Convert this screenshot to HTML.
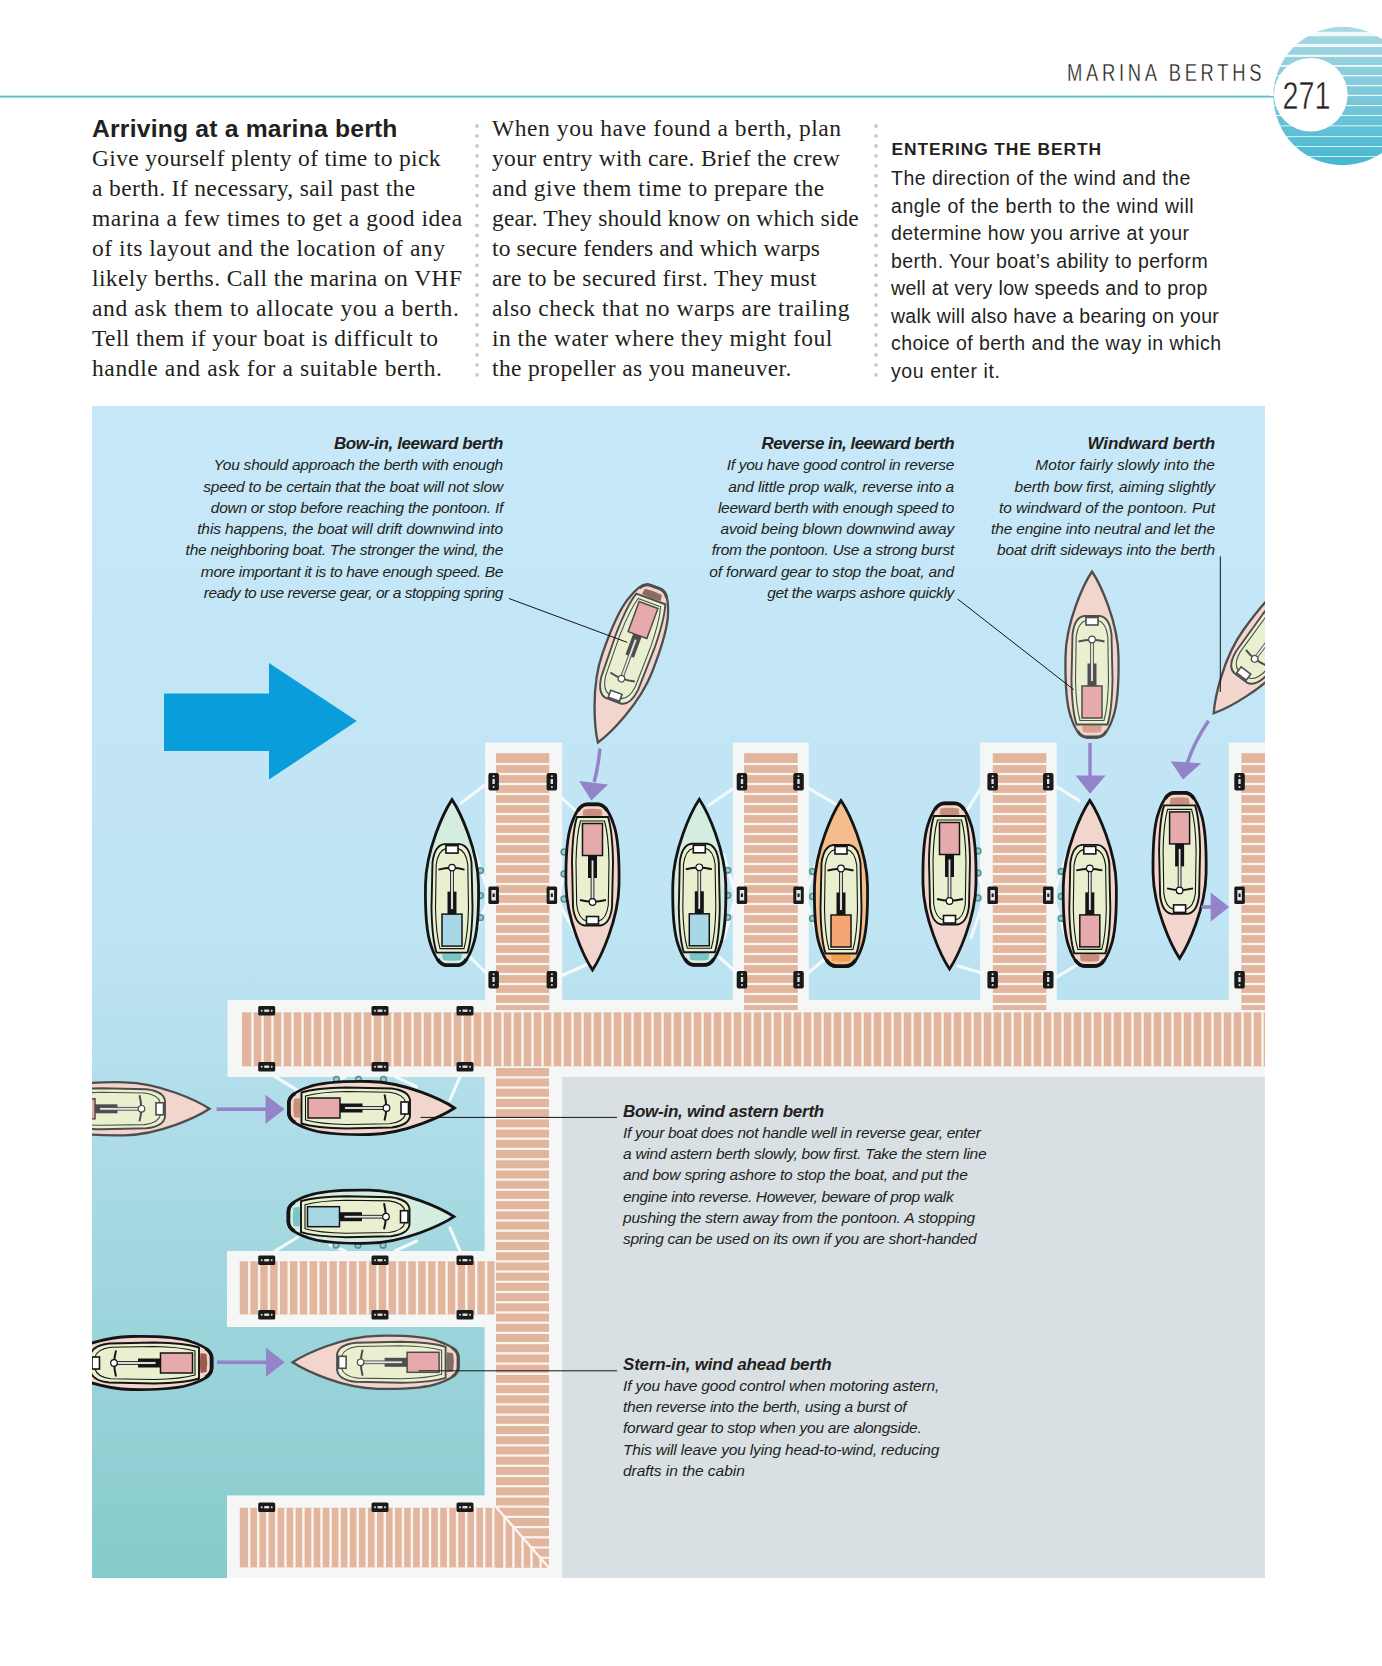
<!DOCTYPE html>
<html><head><meta charset="utf-8">
<style>
*{margin:0;padding:0;box-sizing:border-box}
html,body{width:1382px;height:1666px;background:#fff;overflow:hidden}
body{position:relative;font-family:"Liberation Sans",sans-serif;color:#231f20}
.abs{position:absolute;white-space:nowrap}
#hdr{left:1067.2px;top:60px;font-size:23px;letter-spacing:4.64px;transform:scaleX(0.8);transform-origin:0 0;-webkit-text-stroke:0.3px #fff}
#h1{left:92px;top:115px;font-size:24.7px;font-weight:bold;letter-spacing:0.2px}
.ser{font-family:"Liberation Serif",serif;font-size:23.5px;line-height:30px;letter-spacing:0.45px}
#c1{left:92px;top:143px}
#c2{left:492px;top:113px}
#h3{left:891.5px;top:139.3px;font-size:17.4px;font-weight:bold;letter-spacing:0.9px}
#c3{left:891px;top:165px;font-size:19.5px;line-height:27.5px;letter-spacing:0.45px}
.cap{font-style:italic;font-size:15.5px;line-height:21.3px;letter-spacing:-0.22px}
.cap b{font-size:17px;letter-spacing:-0.28px}
.r{text-align:right}

</style></head><body>
<svg class="abs" style="left:0;top:0" width="1382" height="1666" viewBox="0 0 1382 1666">
<defs>
<clipPath id="ill"><rect x="92" y="406" width="1173" height="1172"/></clipPath>
<linearGradient id="wat" x1="0" y1="406" x2="0" y2="1578" gradientUnits="userSpaceOnUse">
<stop offset="0" stop-color="#c7e8f8"/><stop offset="0.45" stop-color="#bfe4f3"/><stop offset="0.6" stop-color="#b0dde9"/><stop offset="1" stop-color="#86cbcc"/>
</linearGradient>
<linearGradient id="pn" x1="0" y1="27" x2="0" y2="165" gradientUnits="userSpaceOnUse"><stop offset="0" stop-color="#a9d9e3"/><stop offset="0.5" stop-color="#7cc8da"/><stop offset="1" stop-color="#45b8d0"/></linearGradient>
</defs>
<rect x="0" y="95.6" width="1280" height="2" fill="#67bdd0"/>
<circle cx="1342.6" cy="96" r="69.2" fill="url(#pn)"/>
<rect x="1270" y="31.8" width="115" height="4.4" fill="#ffffff" opacity="0.85"/>
<rect x="1270" y="43.9" width="115" height="3.1" fill="#ffffff" opacity="0.85"/>
<rect x="1270" y="54.7" width="115" height="2.2" fill="#ffffff" opacity="0.85"/>
<rect x="1270" y="65.0" width="115" height="1.8" fill="#ffffff" opacity="0.85"/>
<rect x="1270" y="75.0" width="115" height="1.4" fill="#ffffff" opacity="0.85"/>
<rect x="1270" y="84.9" width="115" height="1.3" fill="#ffffff" opacity="0.85"/>
<rect x="1270" y="94.8" width="115" height="1.3" fill="#ffffff" opacity="0.85"/>
<rect x="1270" y="105.0" width="115" height="1.1" fill="#ffffff" opacity="0.85"/>
<rect x="1270" y="115.0" width="115" height="1.0" fill="#ffffff" opacity="0.85"/>
<rect x="1270" y="125.4" width="115" height="0.9" fill="#ffffff" opacity="0.85"/>
<rect x="1270" y="136.2" width="115" height="0.9" fill="#ffffff" opacity="0.85"/>
<rect x="1270" y="146.0" width="115" height="0.9" fill="#ffffff" opacity="0.85"/>
<rect x="1270" y="156.0" width="115" height="0.9" fill="#ffffff" opacity="0.85"/>
<circle cx="1310.8" cy="94.7" r="36.8" fill="#fff"/>
<text x="1282.5" y="109.2" font-family="Liberation Sans" font-size="38" textLength="48" lengthAdjust="spacingAndGlyphs" fill="#231f20" stroke="#fff" stroke-width="0.5">271</text>
<circle cx="477" cy="126.0" r="1.9" fill="#c9c9c9"/>
<circle cx="477" cy="135.9" r="1.9" fill="#c9c9c9"/>
<circle cx="477" cy="145.9" r="1.9" fill="#c9c9c9"/>
<circle cx="477" cy="155.8" r="1.9" fill="#c9c9c9"/>
<circle cx="477" cy="165.8" r="1.9" fill="#c9c9c9"/>
<circle cx="477" cy="175.8" r="1.9" fill="#c9c9c9"/>
<circle cx="477" cy="185.7" r="1.9" fill="#c9c9c9"/>
<circle cx="477" cy="195.6" r="1.9" fill="#c9c9c9"/>
<circle cx="477" cy="205.6" r="1.9" fill="#c9c9c9"/>
<circle cx="477" cy="215.6" r="1.9" fill="#c9c9c9"/>
<circle cx="477" cy="225.5" r="1.9" fill="#c9c9c9"/>
<circle cx="477" cy="235.4" r="1.9" fill="#c9c9c9"/>
<circle cx="477" cy="245.4" r="1.9" fill="#c9c9c9"/>
<circle cx="477" cy="255.3" r="1.9" fill="#c9c9c9"/>
<circle cx="477" cy="265.3" r="1.9" fill="#c9c9c9"/>
<circle cx="477" cy="275.2" r="1.9" fill="#c9c9c9"/>
<circle cx="477" cy="285.2" r="1.9" fill="#c9c9c9"/>
<circle cx="477" cy="295.1" r="1.9" fill="#c9c9c9"/>
<circle cx="477" cy="305.1" r="1.9" fill="#c9c9c9"/>
<circle cx="477" cy="315.0" r="1.9" fill="#c9c9c9"/>
<circle cx="477" cy="325.0" r="1.9" fill="#c9c9c9"/>
<circle cx="477" cy="334.9" r="1.9" fill="#c9c9c9"/>
<circle cx="477" cy="344.9" r="1.9" fill="#c9c9c9"/>
<circle cx="477" cy="354.9" r="1.9" fill="#c9c9c9"/>
<circle cx="477" cy="364.8" r="1.9" fill="#c9c9c9"/>
<circle cx="477" cy="374.8" r="1.9" fill="#c9c9c9"/>
<circle cx="876" cy="126.0" r="1.9" fill="#c9c9c9"/>
<circle cx="876" cy="135.9" r="1.9" fill="#c9c9c9"/>
<circle cx="876" cy="145.9" r="1.9" fill="#c9c9c9"/>
<circle cx="876" cy="155.8" r="1.9" fill="#c9c9c9"/>
<circle cx="876" cy="165.8" r="1.9" fill="#c9c9c9"/>
<circle cx="876" cy="175.8" r="1.9" fill="#c9c9c9"/>
<circle cx="876" cy="185.7" r="1.9" fill="#c9c9c9"/>
<circle cx="876" cy="195.6" r="1.9" fill="#c9c9c9"/>
<circle cx="876" cy="205.6" r="1.9" fill="#c9c9c9"/>
<circle cx="876" cy="215.6" r="1.9" fill="#c9c9c9"/>
<circle cx="876" cy="225.5" r="1.9" fill="#c9c9c9"/>
<circle cx="876" cy="235.4" r="1.9" fill="#c9c9c9"/>
<circle cx="876" cy="245.4" r="1.9" fill="#c9c9c9"/>
<circle cx="876" cy="255.3" r="1.9" fill="#c9c9c9"/>
<circle cx="876" cy="265.3" r="1.9" fill="#c9c9c9"/>
<circle cx="876" cy="275.2" r="1.9" fill="#c9c9c9"/>
<circle cx="876" cy="285.2" r="1.9" fill="#c9c9c9"/>
<circle cx="876" cy="295.1" r="1.9" fill="#c9c9c9"/>
<circle cx="876" cy="305.1" r="1.9" fill="#c9c9c9"/>
<circle cx="876" cy="315.0" r="1.9" fill="#c9c9c9"/>
<circle cx="876" cy="325.0" r="1.9" fill="#c9c9c9"/>
<circle cx="876" cy="334.9" r="1.9" fill="#c9c9c9"/>
<circle cx="876" cy="344.9" r="1.9" fill="#c9c9c9"/>
<circle cx="876" cy="354.9" r="1.9" fill="#c9c9c9"/>
<circle cx="876" cy="364.8" r="1.9" fill="#c9c9c9"/>
<circle cx="876" cy="374.8" r="1.9" fill="#c9c9c9"/>
<g clip-path="url(#ill)">
<rect x="92" y="406" width="1173" height="1172" fill="url(#wat)"/>
<rect x="562" y="1077" width="703" height="501" fill="#d9e0e4"/>
<rect x="485.1" y="742.5" width="77.1" height="270" fill="#f5f6f6"/>
<rect x="732.8" y="742.5" width="76.0" height="270" fill="#f5f6f6"/>
<rect x="980.1" y="742.5" width="76.7" height="270" fill="#f5f6f6"/>
<rect x="1228.8" y="742.5" width="76.2" height="270" fill="#f5f6f6"/>
<rect x="227.5" y="1000" width="1040" height="77" fill="#f5f6f6"/>
<rect x="484.6" y="1000" width="77.4" height="578" fill="#f5f6f6"/>
<rect x="227" y="1251" width="270" height="76" fill="#f5f6f6"/>
<rect x="227" y="1495.4" width="270" height="83" fill="#f5f6f6"/>
<rect x="496" y="753.2" width="53.2" height="256.8" fill="#e2b59e"/>
<rect x="496" y="762.9" width="53.2" height="2.2" fill="#fcf4ee"/>
<rect x="496" y="772.9" width="53.2" height="2.2" fill="#fcf4ee"/>
<rect x="496" y="782.9" width="53.2" height="2.2" fill="#fcf4ee"/>
<rect x="496" y="792.9" width="53.2" height="2.2" fill="#fcf4ee"/>
<rect x="496" y="802.9" width="53.2" height="2.2" fill="#fcf4ee"/>
<rect x="496" y="812.9" width="53.2" height="2.2" fill="#fcf4ee"/>
<rect x="496" y="822.9" width="53.2" height="2.2" fill="#fcf4ee"/>
<rect x="496" y="832.9" width="53.2" height="2.2" fill="#fcf4ee"/>
<rect x="496" y="842.9" width="53.2" height="2.2" fill="#fcf4ee"/>
<rect x="496" y="852.9" width="53.2" height="2.2" fill="#fcf4ee"/>
<rect x="496" y="862.9" width="53.2" height="2.2" fill="#fcf4ee"/>
<rect x="496" y="872.9" width="53.2" height="2.2" fill="#fcf4ee"/>
<rect x="496" y="882.9" width="53.2" height="2.2" fill="#fcf4ee"/>
<rect x="496" y="892.9" width="53.2" height="2.2" fill="#fcf4ee"/>
<rect x="496" y="902.9" width="53.2" height="2.2" fill="#fcf4ee"/>
<rect x="496" y="912.9" width="53.2" height="2.2" fill="#fcf4ee"/>
<rect x="496" y="922.9" width="53.2" height="2.2" fill="#fcf4ee"/>
<rect x="496" y="932.9" width="53.2" height="2.2" fill="#fcf4ee"/>
<rect x="496" y="942.9" width="53.2" height="2.2" fill="#fcf4ee"/>
<rect x="496" y="952.9" width="53.2" height="2.2" fill="#fcf4ee"/>
<rect x="496" y="962.9" width="53.2" height="2.2" fill="#fcf4ee"/>
<rect x="496" y="972.9" width="53.2" height="2.2" fill="#fcf4ee"/>
<rect x="496" y="982.9" width="53.2" height="2.2" fill="#fcf4ee"/>
<rect x="496" y="992.9" width="53.2" height="2.2" fill="#fcf4ee"/>
<rect x="496" y="1002.9" width="53.2" height="2.2" fill="#fcf4ee"/>
<rect x="744.1" y="753.2" width="53.6" height="256.8" fill="#e2b59e"/>
<rect x="744.1" y="762.9" width="53.6" height="2.2" fill="#fcf4ee"/>
<rect x="744.1" y="772.9" width="53.6" height="2.2" fill="#fcf4ee"/>
<rect x="744.1" y="782.9" width="53.6" height="2.2" fill="#fcf4ee"/>
<rect x="744.1" y="792.9" width="53.6" height="2.2" fill="#fcf4ee"/>
<rect x="744.1" y="802.9" width="53.6" height="2.2" fill="#fcf4ee"/>
<rect x="744.1" y="812.9" width="53.6" height="2.2" fill="#fcf4ee"/>
<rect x="744.1" y="822.9" width="53.6" height="2.2" fill="#fcf4ee"/>
<rect x="744.1" y="832.9" width="53.6" height="2.2" fill="#fcf4ee"/>
<rect x="744.1" y="842.9" width="53.6" height="2.2" fill="#fcf4ee"/>
<rect x="744.1" y="852.9" width="53.6" height="2.2" fill="#fcf4ee"/>
<rect x="744.1" y="862.9" width="53.6" height="2.2" fill="#fcf4ee"/>
<rect x="744.1" y="872.9" width="53.6" height="2.2" fill="#fcf4ee"/>
<rect x="744.1" y="882.9" width="53.6" height="2.2" fill="#fcf4ee"/>
<rect x="744.1" y="892.9" width="53.6" height="2.2" fill="#fcf4ee"/>
<rect x="744.1" y="902.9" width="53.6" height="2.2" fill="#fcf4ee"/>
<rect x="744.1" y="912.9" width="53.6" height="2.2" fill="#fcf4ee"/>
<rect x="744.1" y="922.9" width="53.6" height="2.2" fill="#fcf4ee"/>
<rect x="744.1" y="932.9" width="53.6" height="2.2" fill="#fcf4ee"/>
<rect x="744.1" y="942.9" width="53.6" height="2.2" fill="#fcf4ee"/>
<rect x="744.1" y="952.9" width="53.6" height="2.2" fill="#fcf4ee"/>
<rect x="744.1" y="962.9" width="53.6" height="2.2" fill="#fcf4ee"/>
<rect x="744.1" y="972.9" width="53.6" height="2.2" fill="#fcf4ee"/>
<rect x="744.1" y="982.9" width="53.6" height="2.2" fill="#fcf4ee"/>
<rect x="744.1" y="992.9" width="53.6" height="2.2" fill="#fcf4ee"/>
<rect x="744.1" y="1002.9" width="53.6" height="2.2" fill="#fcf4ee"/>
<rect x="992.8" y="753.2" width="53.5" height="256.8" fill="#e2b59e"/>
<rect x="992.8" y="762.9" width="53.5" height="2.2" fill="#fcf4ee"/>
<rect x="992.8" y="772.9" width="53.5" height="2.2" fill="#fcf4ee"/>
<rect x="992.8" y="782.9" width="53.5" height="2.2" fill="#fcf4ee"/>
<rect x="992.8" y="792.9" width="53.5" height="2.2" fill="#fcf4ee"/>
<rect x="992.8" y="802.9" width="53.5" height="2.2" fill="#fcf4ee"/>
<rect x="992.8" y="812.9" width="53.5" height="2.2" fill="#fcf4ee"/>
<rect x="992.8" y="822.9" width="53.5" height="2.2" fill="#fcf4ee"/>
<rect x="992.8" y="832.9" width="53.5" height="2.2" fill="#fcf4ee"/>
<rect x="992.8" y="842.9" width="53.5" height="2.2" fill="#fcf4ee"/>
<rect x="992.8" y="852.9" width="53.5" height="2.2" fill="#fcf4ee"/>
<rect x="992.8" y="862.9" width="53.5" height="2.2" fill="#fcf4ee"/>
<rect x="992.8" y="872.9" width="53.5" height="2.2" fill="#fcf4ee"/>
<rect x="992.8" y="882.9" width="53.5" height="2.2" fill="#fcf4ee"/>
<rect x="992.8" y="892.9" width="53.5" height="2.2" fill="#fcf4ee"/>
<rect x="992.8" y="902.9" width="53.5" height="2.2" fill="#fcf4ee"/>
<rect x="992.8" y="912.9" width="53.5" height="2.2" fill="#fcf4ee"/>
<rect x="992.8" y="922.9" width="53.5" height="2.2" fill="#fcf4ee"/>
<rect x="992.8" y="932.9" width="53.5" height="2.2" fill="#fcf4ee"/>
<rect x="992.8" y="942.9" width="53.5" height="2.2" fill="#fcf4ee"/>
<rect x="992.8" y="952.9" width="53.5" height="2.2" fill="#fcf4ee"/>
<rect x="992.8" y="962.9" width="53.5" height="2.2" fill="#fcf4ee"/>
<rect x="992.8" y="972.9" width="53.5" height="2.2" fill="#fcf4ee"/>
<rect x="992.8" y="982.9" width="53.5" height="2.2" fill="#fcf4ee"/>
<rect x="992.8" y="992.9" width="53.5" height="2.2" fill="#fcf4ee"/>
<rect x="992.8" y="1002.9" width="53.5" height="2.2" fill="#fcf4ee"/>
<rect x="1241.4" y="753.2" width="58.6" height="256.8" fill="#e2b59e"/>
<rect x="1241.4" y="762.9" width="58.6" height="2.2" fill="#fcf4ee"/>
<rect x="1241.4" y="772.9" width="58.6" height="2.2" fill="#fcf4ee"/>
<rect x="1241.4" y="782.9" width="58.6" height="2.2" fill="#fcf4ee"/>
<rect x="1241.4" y="792.9" width="58.6" height="2.2" fill="#fcf4ee"/>
<rect x="1241.4" y="802.9" width="58.6" height="2.2" fill="#fcf4ee"/>
<rect x="1241.4" y="812.9" width="58.6" height="2.2" fill="#fcf4ee"/>
<rect x="1241.4" y="822.9" width="58.6" height="2.2" fill="#fcf4ee"/>
<rect x="1241.4" y="832.9" width="58.6" height="2.2" fill="#fcf4ee"/>
<rect x="1241.4" y="842.9" width="58.6" height="2.2" fill="#fcf4ee"/>
<rect x="1241.4" y="852.9" width="58.6" height="2.2" fill="#fcf4ee"/>
<rect x="1241.4" y="862.9" width="58.6" height="2.2" fill="#fcf4ee"/>
<rect x="1241.4" y="872.9" width="58.6" height="2.2" fill="#fcf4ee"/>
<rect x="1241.4" y="882.9" width="58.6" height="2.2" fill="#fcf4ee"/>
<rect x="1241.4" y="892.9" width="58.6" height="2.2" fill="#fcf4ee"/>
<rect x="1241.4" y="902.9" width="58.6" height="2.2" fill="#fcf4ee"/>
<rect x="1241.4" y="912.9" width="58.6" height="2.2" fill="#fcf4ee"/>
<rect x="1241.4" y="922.9" width="58.6" height="2.2" fill="#fcf4ee"/>
<rect x="1241.4" y="932.9" width="58.6" height="2.2" fill="#fcf4ee"/>
<rect x="1241.4" y="942.9" width="58.6" height="2.2" fill="#fcf4ee"/>
<rect x="1241.4" y="952.9" width="58.6" height="2.2" fill="#fcf4ee"/>
<rect x="1241.4" y="962.9" width="58.6" height="2.2" fill="#fcf4ee"/>
<rect x="1241.4" y="972.9" width="58.6" height="2.2" fill="#fcf4ee"/>
<rect x="1241.4" y="982.9" width="58.6" height="2.2" fill="#fcf4ee"/>
<rect x="1241.4" y="992.9" width="58.6" height="2.2" fill="#fcf4ee"/>
<rect x="1241.4" y="1002.9" width="58.6" height="2.2" fill="#fcf4ee"/>
<rect x="242" y="1012.4" width="1025.0" height="53.9" fill="#e2b59e"/>
<rect x="251.3" y="1012.4" width="2.4" height="53.9" fill="#fcf4ee"/>
<rect x="261.3" y="1012.4" width="2.4" height="53.9" fill="#fcf4ee"/>
<rect x="271.3" y="1012.4" width="2.4" height="53.9" fill="#fcf4ee"/>
<rect x="281.3" y="1012.4" width="2.4" height="53.9" fill="#fcf4ee"/>
<rect x="291.3" y="1012.4" width="2.4" height="53.9" fill="#fcf4ee"/>
<rect x="301.3" y="1012.4" width="2.4" height="53.9" fill="#fcf4ee"/>
<rect x="311.3" y="1012.4" width="2.4" height="53.9" fill="#fcf4ee"/>
<rect x="321.3" y="1012.4" width="2.4" height="53.9" fill="#fcf4ee"/>
<rect x="331.3" y="1012.4" width="2.4" height="53.9" fill="#fcf4ee"/>
<rect x="341.3" y="1012.4" width="2.4" height="53.9" fill="#fcf4ee"/>
<rect x="351.3" y="1012.4" width="2.4" height="53.9" fill="#fcf4ee"/>
<rect x="361.3" y="1012.4" width="2.4" height="53.9" fill="#fcf4ee"/>
<rect x="371.3" y="1012.4" width="2.4" height="53.9" fill="#fcf4ee"/>
<rect x="381.3" y="1012.4" width="2.4" height="53.9" fill="#fcf4ee"/>
<rect x="391.3" y="1012.4" width="2.4" height="53.9" fill="#fcf4ee"/>
<rect x="401.3" y="1012.4" width="2.4" height="53.9" fill="#fcf4ee"/>
<rect x="411.3" y="1012.4" width="2.4" height="53.9" fill="#fcf4ee"/>
<rect x="421.3" y="1012.4" width="2.4" height="53.9" fill="#fcf4ee"/>
<rect x="431.3" y="1012.4" width="2.4" height="53.9" fill="#fcf4ee"/>
<rect x="441.3" y="1012.4" width="2.4" height="53.9" fill="#fcf4ee"/>
<rect x="451.3" y="1012.4" width="2.4" height="53.9" fill="#fcf4ee"/>
<rect x="461.3" y="1012.4" width="2.4" height="53.9" fill="#fcf4ee"/>
<rect x="471.3" y="1012.4" width="2.4" height="53.9" fill="#fcf4ee"/>
<rect x="481.3" y="1012.4" width="2.4" height="53.9" fill="#fcf4ee"/>
<rect x="491.3" y="1012.4" width="2.4" height="53.9" fill="#fcf4ee"/>
<rect x="501.3" y="1012.4" width="2.4" height="53.9" fill="#fcf4ee"/>
<rect x="511.3" y="1012.4" width="2.4" height="53.9" fill="#fcf4ee"/>
<rect x="521.3" y="1012.4" width="2.4" height="53.9" fill="#fcf4ee"/>
<rect x="531.3" y="1012.4" width="2.4" height="53.9" fill="#fcf4ee"/>
<rect x="541.3" y="1012.4" width="2.4" height="53.9" fill="#fcf4ee"/>
<rect x="551.3" y="1012.4" width="2.4" height="53.9" fill="#fcf4ee"/>
<rect x="561.3" y="1012.4" width="2.4" height="53.9" fill="#fcf4ee"/>
<rect x="571.3" y="1012.4" width="2.4" height="53.9" fill="#fcf4ee"/>
<rect x="581.3" y="1012.4" width="2.4" height="53.9" fill="#fcf4ee"/>
<rect x="591.3" y="1012.4" width="2.4" height="53.9" fill="#fcf4ee"/>
<rect x="601.3" y="1012.4" width="2.4" height="53.9" fill="#fcf4ee"/>
<rect x="611.3" y="1012.4" width="2.4" height="53.9" fill="#fcf4ee"/>
<rect x="621.3" y="1012.4" width="2.4" height="53.9" fill="#fcf4ee"/>
<rect x="631.3" y="1012.4" width="2.4" height="53.9" fill="#fcf4ee"/>
<rect x="641.3" y="1012.4" width="2.4" height="53.9" fill="#fcf4ee"/>
<rect x="651.3" y="1012.4" width="2.4" height="53.9" fill="#fcf4ee"/>
<rect x="661.3" y="1012.4" width="2.4" height="53.9" fill="#fcf4ee"/>
<rect x="671.3" y="1012.4" width="2.4" height="53.9" fill="#fcf4ee"/>
<rect x="681.3" y="1012.4" width="2.4" height="53.9" fill="#fcf4ee"/>
<rect x="691.3" y="1012.4" width="2.4" height="53.9" fill="#fcf4ee"/>
<rect x="701.3" y="1012.4" width="2.4" height="53.9" fill="#fcf4ee"/>
<rect x="711.3" y="1012.4" width="2.4" height="53.9" fill="#fcf4ee"/>
<rect x="721.3" y="1012.4" width="2.4" height="53.9" fill="#fcf4ee"/>
<rect x="731.3" y="1012.4" width="2.4" height="53.9" fill="#fcf4ee"/>
<rect x="741.3" y="1012.4" width="2.4" height="53.9" fill="#fcf4ee"/>
<rect x="751.3" y="1012.4" width="2.4" height="53.9" fill="#fcf4ee"/>
<rect x="761.3" y="1012.4" width="2.4" height="53.9" fill="#fcf4ee"/>
<rect x="771.3" y="1012.4" width="2.4" height="53.9" fill="#fcf4ee"/>
<rect x="781.3" y="1012.4" width="2.4" height="53.9" fill="#fcf4ee"/>
<rect x="791.3" y="1012.4" width="2.4" height="53.9" fill="#fcf4ee"/>
<rect x="801.3" y="1012.4" width="2.4" height="53.9" fill="#fcf4ee"/>
<rect x="811.3" y="1012.4" width="2.4" height="53.9" fill="#fcf4ee"/>
<rect x="821.3" y="1012.4" width="2.4" height="53.9" fill="#fcf4ee"/>
<rect x="831.3" y="1012.4" width="2.4" height="53.9" fill="#fcf4ee"/>
<rect x="841.3" y="1012.4" width="2.4" height="53.9" fill="#fcf4ee"/>
<rect x="851.3" y="1012.4" width="2.4" height="53.9" fill="#fcf4ee"/>
<rect x="861.3" y="1012.4" width="2.4" height="53.9" fill="#fcf4ee"/>
<rect x="871.3" y="1012.4" width="2.4" height="53.9" fill="#fcf4ee"/>
<rect x="881.3" y="1012.4" width="2.4" height="53.9" fill="#fcf4ee"/>
<rect x="891.3" y="1012.4" width="2.4" height="53.9" fill="#fcf4ee"/>
<rect x="901.3" y="1012.4" width="2.4" height="53.9" fill="#fcf4ee"/>
<rect x="911.3" y="1012.4" width="2.4" height="53.9" fill="#fcf4ee"/>
<rect x="921.3" y="1012.4" width="2.4" height="53.9" fill="#fcf4ee"/>
<rect x="931.3" y="1012.4" width="2.4" height="53.9" fill="#fcf4ee"/>
<rect x="941.3" y="1012.4" width="2.4" height="53.9" fill="#fcf4ee"/>
<rect x="951.3" y="1012.4" width="2.4" height="53.9" fill="#fcf4ee"/>
<rect x="961.3" y="1012.4" width="2.4" height="53.9" fill="#fcf4ee"/>
<rect x="971.3" y="1012.4" width="2.4" height="53.9" fill="#fcf4ee"/>
<rect x="981.3" y="1012.4" width="2.4" height="53.9" fill="#fcf4ee"/>
<rect x="991.3" y="1012.4" width="2.4" height="53.9" fill="#fcf4ee"/>
<rect x="1001.3" y="1012.4" width="2.4" height="53.9" fill="#fcf4ee"/>
<rect x="1011.3" y="1012.4" width="2.4" height="53.9" fill="#fcf4ee"/>
<rect x="1021.3" y="1012.4" width="2.4" height="53.9" fill="#fcf4ee"/>
<rect x="1031.3" y="1012.4" width="2.4" height="53.9" fill="#fcf4ee"/>
<rect x="1041.3" y="1012.4" width="2.4" height="53.9" fill="#fcf4ee"/>
<rect x="1051.3" y="1012.4" width="2.4" height="53.9" fill="#fcf4ee"/>
<rect x="1061.3" y="1012.4" width="2.4" height="53.9" fill="#fcf4ee"/>
<rect x="1071.3" y="1012.4" width="2.4" height="53.9" fill="#fcf4ee"/>
<rect x="1081.3" y="1012.4" width="2.4" height="53.9" fill="#fcf4ee"/>
<rect x="1091.3" y="1012.4" width="2.4" height="53.9" fill="#fcf4ee"/>
<rect x="1101.3" y="1012.4" width="2.4" height="53.9" fill="#fcf4ee"/>
<rect x="1111.3" y="1012.4" width="2.4" height="53.9" fill="#fcf4ee"/>
<rect x="1121.3" y="1012.4" width="2.4" height="53.9" fill="#fcf4ee"/>
<rect x="1131.3" y="1012.4" width="2.4" height="53.9" fill="#fcf4ee"/>
<rect x="1141.3" y="1012.4" width="2.4" height="53.9" fill="#fcf4ee"/>
<rect x="1151.3" y="1012.4" width="2.4" height="53.9" fill="#fcf4ee"/>
<rect x="1161.3" y="1012.4" width="2.4" height="53.9" fill="#fcf4ee"/>
<rect x="1171.3" y="1012.4" width="2.4" height="53.9" fill="#fcf4ee"/>
<rect x="1181.3" y="1012.4" width="2.4" height="53.9" fill="#fcf4ee"/>
<rect x="1191.3" y="1012.4" width="2.4" height="53.9" fill="#fcf4ee"/>
<rect x="1201.3" y="1012.4" width="2.4" height="53.9" fill="#fcf4ee"/>
<rect x="1211.3" y="1012.4" width="2.4" height="53.9" fill="#fcf4ee"/>
<rect x="1221.3" y="1012.4" width="2.4" height="53.9" fill="#fcf4ee"/>
<rect x="1231.3" y="1012.4" width="2.4" height="53.9" fill="#fcf4ee"/>
<rect x="1241.3" y="1012.4" width="2.4" height="53.9" fill="#fcf4ee"/>
<rect x="1251.3" y="1012.4" width="2.4" height="53.9" fill="#fcf4ee"/>
<rect x="1261.3" y="1012.4" width="2.4" height="53.9" fill="#fcf4ee"/>
<rect x="496" y="1068" width="53.0" height="500.0" fill="#e2b59e"/>
<rect x="496" y="1076.3" width="53.0" height="2.2" fill="#fcf4ee"/>
<rect x="496" y="1086.5" width="53.0" height="2.2" fill="#fcf4ee"/>
<rect x="496" y="1096.7" width="53.0" height="2.2" fill="#fcf4ee"/>
<rect x="496" y="1107.0" width="53.0" height="2.2" fill="#fcf4ee"/>
<rect x="496" y="1117.2" width="53.0" height="2.2" fill="#fcf4ee"/>
<rect x="496" y="1127.4" width="53.0" height="2.2" fill="#fcf4ee"/>
<rect x="496" y="1137.6" width="53.0" height="2.2" fill="#fcf4ee"/>
<rect x="496" y="1147.8" width="53.0" height="2.2" fill="#fcf4ee"/>
<rect x="496" y="1158.1" width="53.0" height="2.2" fill="#fcf4ee"/>
<rect x="496" y="1168.3" width="53.0" height="2.2" fill="#fcf4ee"/>
<rect x="496" y="1178.5" width="53.0" height="2.2" fill="#fcf4ee"/>
<rect x="496" y="1188.7" width="53.0" height="2.2" fill="#fcf4ee"/>
<rect x="496" y="1198.9" width="53.0" height="2.2" fill="#fcf4ee"/>
<rect x="496" y="1209.2" width="53.0" height="2.2" fill="#fcf4ee"/>
<rect x="496" y="1219.4" width="53.0" height="2.2" fill="#fcf4ee"/>
<rect x="496" y="1229.6" width="53.0" height="2.2" fill="#fcf4ee"/>
<rect x="496" y="1239.8" width="53.0" height="2.2" fill="#fcf4ee"/>
<rect x="496" y="1250.0" width="53.0" height="2.2" fill="#fcf4ee"/>
<rect x="496" y="1260.3" width="53.0" height="2.2" fill="#fcf4ee"/>
<rect x="496" y="1270.5" width="53.0" height="2.2" fill="#fcf4ee"/>
<rect x="496" y="1280.7" width="53.0" height="2.2" fill="#fcf4ee"/>
<rect x="496" y="1290.9" width="53.0" height="2.2" fill="#fcf4ee"/>
<rect x="496" y="1301.1" width="53.0" height="2.2" fill="#fcf4ee"/>
<rect x="496" y="1311.4" width="53.0" height="2.2" fill="#fcf4ee"/>
<rect x="496" y="1321.6" width="53.0" height="2.2" fill="#fcf4ee"/>
<rect x="496" y="1331.8" width="53.0" height="2.2" fill="#fcf4ee"/>
<rect x="496" y="1342.0" width="53.0" height="2.2" fill="#fcf4ee"/>
<rect x="496" y="1352.2" width="53.0" height="2.2" fill="#fcf4ee"/>
<rect x="496" y="1362.5" width="53.0" height="2.2" fill="#fcf4ee"/>
<rect x="496" y="1372.7" width="53.0" height="2.2" fill="#fcf4ee"/>
<rect x="496" y="1382.9" width="53.0" height="2.2" fill="#fcf4ee"/>
<rect x="496" y="1393.1" width="53.0" height="2.2" fill="#fcf4ee"/>
<rect x="496" y="1403.3" width="53.0" height="2.2" fill="#fcf4ee"/>
<rect x="496" y="1413.6" width="53.0" height="2.2" fill="#fcf4ee"/>
<rect x="496" y="1423.8" width="53.0" height="2.2" fill="#fcf4ee"/>
<rect x="496" y="1434.0" width="53.0" height="2.2" fill="#fcf4ee"/>
<rect x="496" y="1444.2" width="53.0" height="2.2" fill="#fcf4ee"/>
<rect x="496" y="1454.4" width="53.0" height="2.2" fill="#fcf4ee"/>
<rect x="496" y="1464.7" width="53.0" height="2.2" fill="#fcf4ee"/>
<rect x="496" y="1474.9" width="53.0" height="2.2" fill="#fcf4ee"/>
<rect x="496" y="1485.1" width="53.0" height="2.2" fill="#fcf4ee"/>
<rect x="496" y="1495.3" width="53.0" height="2.2" fill="#fcf4ee"/>
<rect x="496" y="1505.5" width="53.0" height="2.2" fill="#fcf4ee"/>
<rect x="496" y="1515.8" width="53.0" height="2.2" fill="#fcf4ee"/>
<rect x="496" y="1526.0" width="53.0" height="2.2" fill="#fcf4ee"/>
<rect x="496" y="1536.2" width="53.0" height="2.2" fill="#fcf4ee"/>
<rect x="496" y="1546.4" width="53.0" height="2.2" fill="#fcf4ee"/>
<rect x="496" y="1556.6" width="53.0" height="2.2" fill="#fcf4ee"/>
<rect x="496" y="1566.9" width="53.0" height="2.2" fill="#fcf4ee"/>
<rect x="239.8" y="1261.3" width="254.8" height="53.2" fill="#e2b59e"/>
<rect x="248.0" y="1261.3" width="2.4" height="53.2" fill="#fcf4ee"/>
<rect x="257.9" y="1261.3" width="2.4" height="53.2" fill="#fcf4ee"/>
<rect x="267.7" y="1261.3" width="2.4" height="53.2" fill="#fcf4ee"/>
<rect x="277.6" y="1261.3" width="2.4" height="53.2" fill="#fcf4ee"/>
<rect x="287.5" y="1261.3" width="2.4" height="53.2" fill="#fcf4ee"/>
<rect x="297.4" y="1261.3" width="2.4" height="53.2" fill="#fcf4ee"/>
<rect x="307.2" y="1261.3" width="2.4" height="53.2" fill="#fcf4ee"/>
<rect x="317.1" y="1261.3" width="2.4" height="53.2" fill="#fcf4ee"/>
<rect x="327.0" y="1261.3" width="2.4" height="53.2" fill="#fcf4ee"/>
<rect x="336.8" y="1261.3" width="2.4" height="53.2" fill="#fcf4ee"/>
<rect x="346.7" y="1261.3" width="2.4" height="53.2" fill="#fcf4ee"/>
<rect x="356.6" y="1261.3" width="2.4" height="53.2" fill="#fcf4ee"/>
<rect x="366.4" y="1261.3" width="2.4" height="53.2" fill="#fcf4ee"/>
<rect x="376.3" y="1261.3" width="2.4" height="53.2" fill="#fcf4ee"/>
<rect x="386.2" y="1261.3" width="2.4" height="53.2" fill="#fcf4ee"/>
<rect x="396.1" y="1261.3" width="2.4" height="53.2" fill="#fcf4ee"/>
<rect x="405.9" y="1261.3" width="2.4" height="53.2" fill="#fcf4ee"/>
<rect x="415.8" y="1261.3" width="2.4" height="53.2" fill="#fcf4ee"/>
<rect x="425.7" y="1261.3" width="2.4" height="53.2" fill="#fcf4ee"/>
<rect x="435.5" y="1261.3" width="2.4" height="53.2" fill="#fcf4ee"/>
<rect x="445.4" y="1261.3" width="2.4" height="53.2" fill="#fcf4ee"/>
<rect x="455.3" y="1261.3" width="2.4" height="53.2" fill="#fcf4ee"/>
<rect x="465.1" y="1261.3" width="2.4" height="53.2" fill="#fcf4ee"/>
<rect x="475.0" y="1261.3" width="2.4" height="53.2" fill="#fcf4ee"/>
<rect x="484.9" y="1261.3" width="2.4" height="53.2" fill="#fcf4ee"/>
<rect x="239.8" y="1507.8" width="256.2" height="59.6" fill="#e2b59e"/>
<rect x="248.0" y="1507.8" width="2.4" height="59.6" fill="#fcf4ee"/>
<rect x="257.0" y="1507.8" width="2.4" height="59.6" fill="#fcf4ee"/>
<rect x="266.1" y="1507.8" width="2.4" height="59.6" fill="#fcf4ee"/>
<rect x="275.1" y="1507.8" width="2.4" height="59.6" fill="#fcf4ee"/>
<rect x="284.2" y="1507.8" width="2.4" height="59.6" fill="#fcf4ee"/>
<rect x="293.2" y="1507.8" width="2.4" height="59.6" fill="#fcf4ee"/>
<rect x="302.2" y="1507.8" width="2.4" height="59.6" fill="#fcf4ee"/>
<rect x="311.3" y="1507.8" width="2.4" height="59.6" fill="#fcf4ee"/>
<rect x="320.3" y="1507.8" width="2.4" height="59.6" fill="#fcf4ee"/>
<rect x="329.4" y="1507.8" width="2.4" height="59.6" fill="#fcf4ee"/>
<rect x="338.4" y="1507.8" width="2.4" height="59.6" fill="#fcf4ee"/>
<rect x="347.4" y="1507.8" width="2.4" height="59.6" fill="#fcf4ee"/>
<rect x="356.5" y="1507.8" width="2.4" height="59.6" fill="#fcf4ee"/>
<rect x="365.5" y="1507.8" width="2.4" height="59.6" fill="#fcf4ee"/>
<rect x="374.6" y="1507.8" width="2.4" height="59.6" fill="#fcf4ee"/>
<rect x="383.6" y="1507.8" width="2.4" height="59.6" fill="#fcf4ee"/>
<rect x="392.6" y="1507.8" width="2.4" height="59.6" fill="#fcf4ee"/>
<rect x="401.7" y="1507.8" width="2.4" height="59.6" fill="#fcf4ee"/>
<rect x="410.7" y="1507.8" width="2.4" height="59.6" fill="#fcf4ee"/>
<rect x="419.8" y="1507.8" width="2.4" height="59.6" fill="#fcf4ee"/>
<rect x="428.8" y="1507.8" width="2.4" height="59.6" fill="#fcf4ee"/>
<rect x="437.8" y="1507.8" width="2.4" height="59.6" fill="#fcf4ee"/>
<rect x="446.9" y="1507.8" width="2.4" height="59.6" fill="#fcf4ee"/>
<rect x="455.9" y="1507.8" width="2.4" height="59.6" fill="#fcf4ee"/>
<rect x="465.0" y="1507.8" width="2.4" height="59.6" fill="#fcf4ee"/>
<rect x="474.0" y="1507.8" width="2.4" height="59.6" fill="#fcf4ee"/>
<rect x="483.0" y="1507.8" width="2.4" height="59.6" fill="#fcf4ee"/>
<rect x="492.1" y="1507.8" width="2.4" height="59.6" fill="#fcf4ee"/>
<path d="M496,1507 L549,1567.7 L496,1567.7 Z" fill="#e2b59e"/>
<rect x="503.2" y="1515.2" width="2.4" height="52.5" fill="#fcf4ee"/>
<rect x="512.2" y="1525.6" width="2.4" height="42.1" fill="#fcf4ee"/>
<rect x="521.3" y="1536.0" width="2.4" height="31.7" fill="#fcf4ee"/>
<rect x="530.3" y="1546.3" width="2.4" height="21.4" fill="#fcf4ee"/>
<rect x="539.4" y="1556.7" width="2.4" height="11.0" fill="#fcf4ee"/>
<rect x="548.4" y="1567.0" width="2.4" height="0.7" fill="#fcf4ee"/>
<path d="M496,1507 L549,1567.7" stroke="#fcf4ee" stroke-width="2.4"/>
<path d="M460.9,803.0 L485.4,784.5" fill="none" stroke="#f4fafc" stroke-width="3.1" stroke-linecap="round"/>
<path d="M472.4,846.4 L487.5,889.0" fill="none" stroke="#f4fafc" stroke-width="3.1" stroke-linecap="round"/>
<path d="M487.5,903.0 L474.6,932.0" fill="none" stroke="#f4fafc" stroke-width="3.1" stroke-linecap="round"/>
<path d="M468.8,955.8 L486.0,973.0" fill="none" stroke="#f4fafc" stroke-width="3.1" stroke-linecap="round"/>
<path d="M561.0,797.4 L574.6,809.7" fill="none" stroke="#f4fafc" stroke-width="3.1" stroke-linecap="round"/>
<path d="M560.0,889.0 L570.0,858.0" fill="none" stroke="#f4fafc" stroke-width="3.1" stroke-linecap="round"/>
<path d="M560.0,905.0 L579.0,940.0" fill="none" stroke="#f4fafc" stroke-width="3.1" stroke-linecap="round"/>
<path d="M561.0,976.0 L586.9,964.5" fill="none" stroke="#f4fafc" stroke-width="3.1" stroke-linecap="round"/>
<path d="M708.6,805.5 L731.7,789.5" fill="none" stroke="#f4fafc" stroke-width="3.1" stroke-linecap="round"/>
<path d="M723.7,854.8 L734.0,889.9" fill="none" stroke="#f4fafc" stroke-width="3.1" stroke-linecap="round"/>
<path d="M734.0,903.0 L723.7,939.0" fill="none" stroke="#f4fafc" stroke-width="3.1" stroke-linecap="round"/>
<path d="M719.7,957.5 L734.8,971.0" fill="none" stroke="#f4fafc" stroke-width="3.1" stroke-linecap="round"/>
<path d="M808.0,788.0 L835.2,803.9" fill="none" stroke="#f4fafc" stroke-width="3.1" stroke-linecap="round"/>
<path d="M819.2,854.8 L807.0,889.9" fill="none" stroke="#f4fafc" stroke-width="3.1" stroke-linecap="round"/>
<path d="M807.0,903.0 L819.2,940.8" fill="none" stroke="#f4fafc" stroke-width="3.1" stroke-linecap="round"/>
<path d="M824.0,960.0 L808.0,972.7" fill="none" stroke="#f4fafc" stroke-width="3.1" stroke-linecap="round"/>
<path d="M966.8,811.0 L982.0,786.4" fill="none" stroke="#f4fafc" stroke-width="3.1" stroke-linecap="round"/>
<path d="M973.0,858.0 L983.0,889.9" fill="none" stroke="#f4fafc" stroke-width="3.1" stroke-linecap="round"/>
<path d="M983.0,903.0 L971.0,938.0" fill="none" stroke="#f4fafc" stroke-width="3.1" stroke-linecap="round"/>
<path d="M958.0,966.0 L982.0,973.0" fill="none" stroke="#f4fafc" stroke-width="3.1" stroke-linecap="round"/>
<path d="M1056.0,786.4 L1079.7,800.9" fill="none" stroke="#f4fafc" stroke-width="3.1" stroke-linecap="round"/>
<path d="M1067.0,854.8 L1055.0,889.9" fill="none" stroke="#f4fafc" stroke-width="3.1" stroke-linecap="round"/>
<path d="M1055.0,903.0 L1067.0,940.0" fill="none" stroke="#f4fafc" stroke-width="3.1" stroke-linecap="round"/>
<path d="M1056.0,977.5 L1082.6,961.5" fill="none" stroke="#f4fafc" stroke-width="3.1" stroke-linecap="round"/>
<path d="M275.0,1076.7 L298.3,1090.8" fill="none" stroke="#f4fafc" stroke-width="3.1" stroke-linecap="round"/>
<path d="M395.0,1076.7 L416.7,1086.7" fill="none" stroke="#f4fafc" stroke-width="3.1" stroke-linecap="round"/>
<path d="M460.0,1076.7 L450.0,1100.0" fill="none" stroke="#f4fafc" stroke-width="3.1" stroke-linecap="round"/>
<path d="M345.0,1077.0 L330.0,1083.0" fill="none" stroke="#f4fafc" stroke-width="3.1" stroke-linecap="round"/>
<path d="M275.0,1251.0 L298.0,1237.0" fill="none" stroke="#f4fafc" stroke-width="3.1" stroke-linecap="round"/>
<path d="M395.0,1251.0 L416.7,1241.0" fill="none" stroke="#f4fafc" stroke-width="3.1" stroke-linecap="round"/>
<path d="M460.0,1251.0 L450.0,1228.0" fill="none" stroke="#f4fafc" stroke-width="3.1" stroke-linecap="round"/>
<path d="M345.0,1251.0 L330.0,1245.0" fill="none" stroke="#f4fafc" stroke-width="3.1" stroke-linecap="round"/>
<rect x="488.4" y="773" width="10.5" height="17.5" rx="2" fill="#1a1a1a"/><circle cx="493.6" cy="776.2" r="1" fill="#ddd"/><rect x="492.4" y="779.0" width="2.4" height="5" fill="#ddd"/><circle cx="493.6" cy="787.0" r="1" fill="#ddd"/>
<rect x="546.6" y="773" width="10.5" height="17.5" rx="2" fill="#1a1a1a"/><circle cx="551.9" cy="776.2" r="1" fill="#ddd"/><rect x="550.6" y="779.0" width="2.4" height="5" fill="#ddd"/><circle cx="551.9" cy="787.0" r="1" fill="#ddd"/>
<rect x="488.4" y="971" width="10.5" height="17.5" rx="2" fill="#1a1a1a"/><circle cx="493.6" cy="974.2" r="1" fill="#ddd"/><rect x="492.4" y="977.0" width="2.4" height="5" fill="#ddd"/><circle cx="493.6" cy="985.0" r="1" fill="#ddd"/>
<rect x="546.6" y="971" width="10.5" height="17.5" rx="2" fill="#1a1a1a"/><circle cx="551.9" cy="974.2" r="1" fill="#ddd"/><rect x="550.6" y="977.0" width="2.4" height="5" fill="#ddd"/><circle cx="551.9" cy="985.0" r="1" fill="#ddd"/>
<rect x="488.4" y="886.5" width="10.5" height="17.5" rx="1.5" fill="#1a1a1a"/><rect x="491.4" y="890.0" width="4.5" height="10.5" fill="#e6e6e6"/><rect x="492.6" y="893.5" width="2.1" height="3.5" fill="#1a1a1a"/>
<rect x="546.6" y="886.5" width="10.5" height="17.5" rx="1.5" fill="#1a1a1a"/><rect x="549.6" y="890.0" width="4.5" height="10.5" fill="#e6e6e6"/><rect x="550.8" y="893.5" width="2.1" height="3.5" fill="#1a1a1a"/>
<rect x="736.7" y="773" width="10.5" height="17.5" rx="2" fill="#1a1a1a"/><circle cx="742.0" cy="776.2" r="1" fill="#ddd"/><rect x="740.8" y="779.0" width="2.4" height="5" fill="#ddd"/><circle cx="742.0" cy="787.0" r="1" fill="#ddd"/>
<rect x="793.3" y="773" width="10.5" height="17.5" rx="2" fill="#1a1a1a"/><circle cx="798.5" cy="776.2" r="1" fill="#ddd"/><rect x="797.3" y="779.0" width="2.4" height="5" fill="#ddd"/><circle cx="798.5" cy="787.0" r="1" fill="#ddd"/>
<rect x="736.7" y="971" width="10.5" height="17.5" rx="2" fill="#1a1a1a"/><circle cx="742.0" cy="974.2" r="1" fill="#ddd"/><rect x="740.8" y="977.0" width="2.4" height="5" fill="#ddd"/><circle cx="742.0" cy="985.0" r="1" fill="#ddd"/>
<rect x="793.3" y="971" width="10.5" height="17.5" rx="2" fill="#1a1a1a"/><circle cx="798.5" cy="974.2" r="1" fill="#ddd"/><rect x="797.3" y="977.0" width="2.4" height="5" fill="#ddd"/><circle cx="798.5" cy="985.0" r="1" fill="#ddd"/>
<rect x="736.7" y="886.5" width="10.5" height="17.5" rx="1.5" fill="#1a1a1a"/><rect x="739.7" y="890.0" width="4.5" height="10.5" fill="#e6e6e6"/><rect x="740.9" y="893.5" width="2.1" height="3.5" fill="#1a1a1a"/>
<rect x="793.3" y="886.5" width="10.5" height="17.5" rx="1.5" fill="#1a1a1a"/><rect x="796.3" y="890.0" width="4.5" height="10.5" fill="#e6e6e6"/><rect x="797.5" y="893.5" width="2.1" height="3.5" fill="#1a1a1a"/>
<rect x="987.4" y="773" width="10.5" height="17.5" rx="2" fill="#1a1a1a"/><circle cx="992.6" cy="776.2" r="1" fill="#ddd"/><rect x="991.4" y="779.0" width="2.4" height="5" fill="#ddd"/><circle cx="992.6" cy="787.0" r="1" fill="#ddd"/>
<rect x="1043.0" y="773" width="10.5" height="17.5" rx="2" fill="#1a1a1a"/><circle cx="1048.2" cy="776.2" r="1" fill="#ddd"/><rect x="1047.0" y="779.0" width="2.4" height="5" fill="#ddd"/><circle cx="1048.2" cy="787.0" r="1" fill="#ddd"/>
<rect x="987.4" y="971" width="10.5" height="17.5" rx="2" fill="#1a1a1a"/><circle cx="992.6" cy="974.2" r="1" fill="#ddd"/><rect x="991.4" y="977.0" width="2.4" height="5" fill="#ddd"/><circle cx="992.6" cy="985.0" r="1" fill="#ddd"/>
<rect x="1043.0" y="971" width="10.5" height="17.5" rx="2" fill="#1a1a1a"/><circle cx="1048.2" cy="974.2" r="1" fill="#ddd"/><rect x="1047.0" y="977.0" width="2.4" height="5" fill="#ddd"/><circle cx="1048.2" cy="985.0" r="1" fill="#ddd"/>
<rect x="987.4" y="886.5" width="10.5" height="17.5" rx="1.5" fill="#1a1a1a"/><rect x="990.4" y="890.0" width="4.5" height="10.5" fill="#e6e6e6"/><rect x="991.6" y="893.5" width="2.1" height="3.5" fill="#1a1a1a"/>
<rect x="1043.0" y="886.5" width="10.5" height="17.5" rx="1.5" fill="#1a1a1a"/><rect x="1046.0" y="890.0" width="4.5" height="10.5" fill="#e6e6e6"/><rect x="1047.2" y="893.5" width="2.1" height="3.5" fill="#1a1a1a"/>
<rect x="1234.3" y="773" width="10.5" height="17.5" rx="2" fill="#1a1a1a"/><circle cx="1239.5" cy="776.2" r="1" fill="#ddd"/><rect x="1238.3" y="779.0" width="2.4" height="5" fill="#ddd"/><circle cx="1239.5" cy="787.0" r="1" fill="#ddd"/>
<rect x="1290.0" y="773" width="10.5" height="17.5" rx="2" fill="#1a1a1a"/><circle cx="1295.2" cy="776.2" r="1" fill="#ddd"/><rect x="1294.0" y="779.0" width="2.4" height="5" fill="#ddd"/><circle cx="1295.2" cy="787.0" r="1" fill="#ddd"/>
<rect x="1234.3" y="971" width="10.5" height="17.5" rx="2" fill="#1a1a1a"/><circle cx="1239.5" cy="974.2" r="1" fill="#ddd"/><rect x="1238.3" y="977.0" width="2.4" height="5" fill="#ddd"/><circle cx="1239.5" cy="985.0" r="1" fill="#ddd"/>
<rect x="1290.0" y="971" width="10.5" height="17.5" rx="2" fill="#1a1a1a"/><circle cx="1295.2" cy="974.2" r="1" fill="#ddd"/><rect x="1294.0" y="977.0" width="2.4" height="5" fill="#ddd"/><circle cx="1295.2" cy="985.0" r="1" fill="#ddd"/>
<rect x="1234.3" y="886.5" width="10.5" height="17.5" rx="1.5" fill="#1a1a1a"/><rect x="1237.3" y="890.0" width="4.5" height="10.5" fill="#e6e6e6"/><rect x="1238.5" y="893.5" width="2.1" height="3.5" fill="#1a1a1a"/>
<rect x="1290.0" y="886.5" width="10.5" height="17.5" rx="1.5" fill="#1a1a1a"/><rect x="1293.0" y="890.0" width="4.5" height="10.5" fill="#e6e6e6"/><rect x="1294.2" y="893.5" width="2.1" height="3.5" fill="#1a1a1a"/>
<rect x="258.2" y="1006" width="17" height="9.5" rx="1.5" fill="#1a1a1a"/><circle cx="261.7" cy="1010.8" r="1" fill="#ddd"/><rect x="264.2" y="1009.5" width="5" height="2.4" fill="#ddd"/><circle cx="271.7" cy="1010.8" r="1" fill="#ddd"/>
<rect x="258.2" y="1062" width="17" height="9.5" rx="1.5" fill="#1a1a1a"/><circle cx="261.7" cy="1066.8" r="1" fill="#ddd"/><rect x="264.2" y="1065.5" width="5" height="2.4" fill="#ddd"/><circle cx="271.7" cy="1066.8" r="1" fill="#ddd"/>
<rect x="258.2" y="1255.5" width="17" height="9.5" rx="1.5" fill="#1a1a1a"/><circle cx="261.7" cy="1260.2" r="1" fill="#ddd"/><rect x="264.2" y="1259.0" width="5" height="2.4" fill="#ddd"/><circle cx="271.7" cy="1260.2" r="1" fill="#ddd"/>
<rect x="258.2" y="1310" width="17" height="9.5" rx="1.5" fill="#1a1a1a"/><circle cx="261.7" cy="1314.8" r="1" fill="#ddd"/><rect x="264.2" y="1313.5" width="5" height="2.4" fill="#ddd"/><circle cx="271.7" cy="1314.8" r="1" fill="#ddd"/>
<rect x="258.2" y="1502.5" width="17" height="9.5" rx="1.5" fill="#1a1a1a"/><circle cx="261.7" cy="1507.2" r="1" fill="#ddd"/><rect x="264.2" y="1506.0" width="5" height="2.4" fill="#ddd"/><circle cx="271.7" cy="1507.2" r="1" fill="#ddd"/>
<rect x="371.5" y="1006" width="17" height="9.5" rx="1.5" fill="#1a1a1a"/><circle cx="375.0" cy="1010.8" r="1" fill="#ddd"/><rect x="377.5" y="1009.5" width="5" height="2.4" fill="#ddd"/><circle cx="385.0" cy="1010.8" r="1" fill="#ddd"/>
<rect x="371.5" y="1062" width="17" height="9.5" rx="1.5" fill="#1a1a1a"/><circle cx="375.0" cy="1066.8" r="1" fill="#ddd"/><rect x="377.5" y="1065.5" width="5" height="2.4" fill="#ddd"/><circle cx="385.0" cy="1066.8" r="1" fill="#ddd"/>
<rect x="371.5" y="1255.5" width="17" height="9.5" rx="1.5" fill="#1a1a1a"/><circle cx="375.0" cy="1260.2" r="1" fill="#ddd"/><rect x="377.5" y="1259.0" width="5" height="2.4" fill="#ddd"/><circle cx="385.0" cy="1260.2" r="1" fill="#ddd"/>
<rect x="371.5" y="1310" width="17" height="9.5" rx="1.5" fill="#1a1a1a"/><circle cx="375.0" cy="1314.8" r="1" fill="#ddd"/><rect x="377.5" y="1313.5" width="5" height="2.4" fill="#ddd"/><circle cx="385.0" cy="1314.8" r="1" fill="#ddd"/>
<rect x="371.5" y="1502.5" width="17" height="9.5" rx="1.5" fill="#1a1a1a"/><circle cx="375.0" cy="1507.2" r="1" fill="#ddd"/><rect x="377.5" y="1506.0" width="5" height="2.4" fill="#ddd"/><circle cx="385.0" cy="1507.2" r="1" fill="#ddd"/>
<rect x="456.5" y="1006" width="17" height="9.5" rx="1.5" fill="#1a1a1a"/><circle cx="460.0" cy="1010.8" r="1" fill="#ddd"/><rect x="462.5" y="1009.5" width="5" height="2.4" fill="#ddd"/><circle cx="470.0" cy="1010.8" r="1" fill="#ddd"/>
<rect x="456.5" y="1062" width="17" height="9.5" rx="1.5" fill="#1a1a1a"/><circle cx="460.0" cy="1066.8" r="1" fill="#ddd"/><rect x="462.5" y="1065.5" width="5" height="2.4" fill="#ddd"/><circle cx="470.0" cy="1066.8" r="1" fill="#ddd"/>
<rect x="456.5" y="1255.5" width="17" height="9.5" rx="1.5" fill="#1a1a1a"/><circle cx="460.0" cy="1260.2" r="1" fill="#ddd"/><rect x="462.5" y="1259.0" width="5" height="2.4" fill="#ddd"/><circle cx="470.0" cy="1260.2" r="1" fill="#ddd"/>
<rect x="456.5" y="1310" width="17" height="9.5" rx="1.5" fill="#1a1a1a"/><circle cx="460.0" cy="1314.8" r="1" fill="#ddd"/><rect x="462.5" y="1313.5" width="5" height="2.4" fill="#ddd"/><circle cx="470.0" cy="1314.8" r="1" fill="#ddd"/>
<rect x="456.5" y="1502.5" width="17" height="9.5" rx="1.5" fill="#1a1a1a"/><circle cx="460.0" cy="1507.2" r="1" fill="#ddd"/><rect x="462.5" y="1506.0" width="5" height="2.4" fill="#ddd"/><circle cx="470.0" cy="1507.2" r="1" fill="#ddd"/>
<polygon points="164,693.5 269,693.5 269,663 356.8,721 269,779.6 269,751 164,751" fill="#0a9ddb"/>
<g transform="translate(626.6,664.6) rotate(200.2)">
<path d="M0,-83 C8,-71 26,-33 26.5,2 C27,32 25,52 21,63 C18,72 13,83 5,83 L-5,83 C-13,83 -18,72 -21,63 C-25,52 -27,32 -26.5,2 C-26,-33 -8,-71 0,-83 Z" fill="#f2d6ce" stroke="#4d4d4d" stroke-width="2.3"/>
<path d="M-10,71.5 Q0,70 10,71.5 L9,77.5 Q0,79 -9,77.5 Z" fill="#8c6c62"/>
<path d="M-14.5,76.5 Q-11,82.5 -5,82.5 L5,82.5 Q11,82.5 14.5,76.5" fill="none" stroke="#4d4d4d" stroke-width="3"/>
<path d="M-8,-38.5 L8,-38.5 Q17.5,-37 19.5,-20 L20.5,25 Q20,56 15.5,70 L-15.5,70 Q-20,56 -20.5,25 L-19.5,-20 Q-17.5,-37 -8,-38.5 Z" fill="#e8f0cf" stroke="#4d4d4d" stroke-width="1.9"/>
<path d="M-6,-34 L6,-34 Q14,-32 15.8,-18 L16.5,25 Q16,52 12,66 L-12,66 Q-16,52 -16.5,25 L-15.8,-18 Q-14,-32 -6,-34 Z" fill="none" stroke="#4d4d4d" stroke-width="1.1"/>
<rect x="-10" y="31.5" width="20" height="32" fill="#e6aaac" stroke="#4d4d4d" stroke-width="1.5"/>
<rect x="-4.5" y="9" width="9" height="22.5" fill="#4d4d4d"/>
<rect x="-1.4" y="-15" width="2.8" height="42" fill="#e4e4e4" stroke="#4d4d4d" stroke-width="0.9"/>
<path d="M-13.5,-13 Q0,-16.5 12.5,-13" fill="none" stroke="#4d4d4d" stroke-width="2"/>
<circle cx="0" cy="-15" r="3.3" fill="#fff" stroke="#4d4d4d" stroke-width="1.2"/>
<rect x="-6" y="-37" width="12" height="7.5" fill="#fff" stroke="#4d4d4d" stroke-width="1.6"/>
</g>
<g transform="translate(1263.7,647.0) rotate(217.0)">
<path d="M0,-83 C8,-71 26,-33 26.5,2 C27,32 25,52 21,63 C18,72 13,83 5,83 L-5,83 C-13,83 -18,72 -21,63 C-25,52 -27,32 -26.5,2 C-26,-33 -8,-71 0,-83 Z" fill="#f2d6ce" stroke="#4d4d4d" stroke-width="2.3"/>
<path d="M-10,71.5 Q0,70 10,71.5 L9,77.5 Q0,79 -9,77.5 Z" fill="#c98e7c"/>
<path d="M-14.5,76.5 Q-11,82.5 -5,82.5 L5,82.5 Q11,82.5 14.5,76.5" fill="none" stroke="#4d4d4d" stroke-width="3"/>
<path d="M-8,-38.5 L8,-38.5 Q17.5,-37 19.5,-20 L20.5,25 Q20,56 15.5,70 L-15.5,70 Q-20,56 -20.5,25 L-19.5,-20 Q-17.5,-37 -8,-38.5 Z" fill="#e8f0cf" stroke="#4d4d4d" stroke-width="1.9"/>
<path d="M-6,-34 L6,-34 Q14,-32 15.8,-18 L16.5,25 Q16,52 12,66 L-12,66 Q-16,52 -16.5,25 L-15.8,-18 Q-14,-32 -6,-34 Z" fill="none" stroke="#4d4d4d" stroke-width="1.1"/>
<rect x="-10" y="31.5" width="20" height="32" fill="#e6aaac" stroke="#4d4d4d" stroke-width="1.5"/>
<rect x="-4.5" y="9" width="9" height="22.5" fill="#4d4d4d"/>
<rect x="-1.4" y="-15" width="2.8" height="42" fill="#e4e4e4" stroke="#4d4d4d" stroke-width="0.9"/>
<path d="M-13.5,-13 Q0,-16.5 12.5,-13" fill="none" stroke="#4d4d4d" stroke-width="2"/>
<circle cx="0" cy="-15" r="3.3" fill="#fff" stroke="#4d4d4d" stroke-width="1.2"/>
<rect x="-6" y="-37" width="12" height="7.5" fill="#fff" stroke="#4d4d4d" stroke-width="1.6"/>
</g>
<g transform="translate(1092.0,654.5) rotate(0.0)">
<path d="M0,-83 C8,-71 26,-33 26.5,2 C27,32 25,52 21,63 C18,72 13,83 5,83 L-5,83 C-13,83 -18,72 -21,63 C-25,52 -27,32 -26.5,2 C-26,-33 -8,-71 0,-83 Z" fill="#f2d6ce" stroke="#4d4d4d" stroke-width="2.3"/>
<path d="M-10,71.5 Q0,70 10,71.5 L9,77.5 Q0,79 -9,77.5 Z" fill="#d9a08c"/>
<path d="M-14.5,76.5 Q-11,82.5 -5,82.5 L5,82.5 Q11,82.5 14.5,76.5" fill="none" stroke="#4d4d4d" stroke-width="3"/>
<path d="M-8,-38.5 L8,-38.5 Q17.5,-37 19.5,-20 L20.5,25 Q20,56 15.5,70 L-15.5,70 Q-20,56 -20.5,25 L-19.5,-20 Q-17.5,-37 -8,-38.5 Z" fill="#e8f0cf" stroke="#4d4d4d" stroke-width="1.9"/>
<path d="M-6,-34 L6,-34 Q14,-32 15.8,-18 L16.5,25 Q16,52 12,66 L-12,66 Q-16,52 -16.5,25 L-15.8,-18 Q-14,-32 -6,-34 Z" fill="none" stroke="#4d4d4d" stroke-width="1.1"/>
<rect x="-10" y="31.5" width="20" height="32" fill="#e6aaac" stroke="#4d4d4d" stroke-width="1.5"/>
<rect x="-4.5" y="9" width="9" height="22.5" fill="#4d4d4d"/>
<rect x="-1.4" y="-15" width="2.8" height="42" fill="#e4e4e4" stroke="#4d4d4d" stroke-width="0.9"/>
<path d="M-13.5,-13 Q0,-16.5 12.5,-13" fill="none" stroke="#4d4d4d" stroke-width="2"/>
<circle cx="0" cy="-15" r="3.3" fill="#fff" stroke="#4d4d4d" stroke-width="1.2"/>
<rect x="-6" y="-37" width="12" height="7.5" fill="#fff" stroke="#4d4d4d" stroke-width="1.6"/>
</g>
<g transform="translate(452.0,882.6) rotate(0.0)">
<circle cx="28.5" cy="-12" r="2.9" fill="#9cc9c9" stroke="#4f9296" stroke-width="1.5"/>
<circle cx="28.5" cy="13" r="2.9" fill="#9cc9c9" stroke="#4f9296" stroke-width="1.5"/>
<circle cx="28.5" cy="35" r="2.9" fill="#9cc9c9" stroke="#4f9296" stroke-width="1.5"/>
<path d="M0,-83 C8,-71 26,-33 26.5,2 C27,32 25,52 21,63 C18,72 13,83 5,83 L-5,83 C-13,83 -18,72 -21,63 C-25,52 -27,32 -26.5,2 C-26,-33 -8,-71 0,-83 Z" fill="#d5ece1" stroke="#141414" stroke-width="2.8"/>
<path d="M-10,71.5 Q0,70 10,71.5 L9,77.5 Q0,79 -9,77.5 Z" fill="#79c5c3"/>
<path d="M-14.5,76.5 Q-11,82.5 -5,82.5 L5,82.5 Q11,82.5 14.5,76.5" fill="none" stroke="#141414" stroke-width="3.6"/>
<path d="M-8,-38.5 L8,-38.5 Q17.5,-37 19.5,-20 L20.5,25 Q20,56 15.5,70 L-15.5,70 Q-20,56 -20.5,25 L-19.5,-20 Q-17.5,-37 -8,-38.5 Z" fill="#e8f0cf" stroke="#141414" stroke-width="1.9"/>
<path d="M-6,-34 L6,-34 Q14,-32 15.8,-18 L16.5,25 Q16,52 12,66 L-12,66 Q-16,52 -16.5,25 L-15.8,-18 Q-14,-32 -6,-34 Z" fill="none" stroke="#141414" stroke-width="1.1"/>
<rect x="-10" y="31.5" width="20" height="32" fill="#a8d7e5" stroke="#141414" stroke-width="1.5"/>
<rect x="-4.5" y="9" width="9" height="22.5" fill="#141414"/>
<rect x="-1.4" y="-15" width="2.8" height="42" fill="#e4e4e4" stroke="#141414" stroke-width="0.9"/>
<path d="M-13.5,-13 Q0,-16.5 12.5,-13" fill="none" stroke="#141414" stroke-width="2"/>
<circle cx="0" cy="-15" r="3.3" fill="#fff" stroke="#141414" stroke-width="1.2"/>
<rect x="-6" y="-37" width="12" height="7.5" fill="#fff" stroke="#141414" stroke-width="1.6"/>
</g>
<g transform="translate(592.5,887.0) rotate(180.0)">
<circle cx="28.5" cy="-12" r="2.9" fill="#9cc9c9" stroke="#4f9296" stroke-width="1.5"/>
<circle cx="28.5" cy="13" r="2.9" fill="#9cc9c9" stroke="#4f9296" stroke-width="1.5"/>
<circle cx="28.5" cy="35" r="2.9" fill="#9cc9c9" stroke="#4f9296" stroke-width="1.5"/>
<path d="M0,-83 C8,-71 26,-33 26.5,2 C27,32 25,52 21,63 C18,72 13,83 5,83 L-5,83 C-13,83 -18,72 -21,63 C-25,52 -27,32 -26.5,2 C-26,-33 -8,-71 0,-83 Z" fill="#f2d6ce" stroke="#141414" stroke-width="2.8"/>
<path d="M-10,71.5 Q0,70 10,71.5 L9,77.5 Q0,79 -9,77.5 Z" fill="#c98e7c"/>
<path d="M-14.5,76.5 Q-11,82.5 -5,82.5 L5,82.5 Q11,82.5 14.5,76.5" fill="none" stroke="#141414" stroke-width="3.6"/>
<path d="M-8,-38.5 L8,-38.5 Q17.5,-37 19.5,-20 L20.5,25 Q20,56 15.5,70 L-15.5,70 Q-20,56 -20.5,25 L-19.5,-20 Q-17.5,-37 -8,-38.5 Z" fill="#e8f0cf" stroke="#141414" stroke-width="1.9"/>
<path d="M-6,-34 L6,-34 Q14,-32 15.8,-18 L16.5,25 Q16,52 12,66 L-12,66 Q-16,52 -16.5,25 L-15.8,-18 Q-14,-32 -6,-34 Z" fill="none" stroke="#141414" stroke-width="1.1"/>
<rect x="-10" y="31.5" width="20" height="32" fill="#e6aaac" stroke="#141414" stroke-width="1.5"/>
<rect x="-4.5" y="9" width="9" height="22.5" fill="#141414"/>
<rect x="-1.4" y="-15" width="2.8" height="42" fill="#e4e4e4" stroke="#141414" stroke-width="0.9"/>
<path d="M-13.5,-13 Q0,-16.5 12.5,-13" fill="none" stroke="#141414" stroke-width="2"/>
<circle cx="0" cy="-15" r="3.3" fill="#fff" stroke="#141414" stroke-width="1.2"/>
<rect x="-6" y="-37" width="12" height="7.5" fill="#fff" stroke="#141414" stroke-width="1.6"/>
</g>
<g transform="translate(699.3,882.3) rotate(0.0)">
<circle cx="28.5" cy="-12" r="2.9" fill="#9cc9c9" stroke="#4f9296" stroke-width="1.5"/>
<circle cx="28.5" cy="13" r="2.9" fill="#9cc9c9" stroke="#4f9296" stroke-width="1.5"/>
<circle cx="28.5" cy="35" r="2.9" fill="#9cc9c9" stroke="#4f9296" stroke-width="1.5"/>
<path d="M0,-83 C8,-71 26,-33 26.5,2 C27,32 25,52 21,63 C18,72 13,83 5,83 L-5,83 C-13,83 -18,72 -21,63 C-25,52 -27,32 -26.5,2 C-26,-33 -8,-71 0,-83 Z" fill="#d5ece1" stroke="#141414" stroke-width="2.8"/>
<path d="M-10,71.5 Q0,70 10,71.5 L9,77.5 Q0,79 -9,77.5 Z" fill="#79c5c3"/>
<path d="M-14.5,76.5 Q-11,82.5 -5,82.5 L5,82.5 Q11,82.5 14.5,76.5" fill="none" stroke="#141414" stroke-width="3.6"/>
<path d="M-8,-38.5 L8,-38.5 Q17.5,-37 19.5,-20 L20.5,25 Q20,56 15.5,70 L-15.5,70 Q-20,56 -20.5,25 L-19.5,-20 Q-17.5,-37 -8,-38.5 Z" fill="#e8f0cf" stroke="#141414" stroke-width="1.9"/>
<path d="M-6,-34 L6,-34 Q14,-32 15.8,-18 L16.5,25 Q16,52 12,66 L-12,66 Q-16,52 -16.5,25 L-15.8,-18 Q-14,-32 -6,-34 Z" fill="none" stroke="#141414" stroke-width="1.1"/>
<rect x="-10" y="31.5" width="20" height="32" fill="#a8d7e5" stroke="#141414" stroke-width="1.5"/>
<rect x="-4.5" y="9" width="9" height="22.5" fill="#141414"/>
<rect x="-1.4" y="-15" width="2.8" height="42" fill="#e4e4e4" stroke="#141414" stroke-width="0.9"/>
<path d="M-13.5,-13 Q0,-16.5 12.5,-13" fill="none" stroke="#141414" stroke-width="2"/>
<circle cx="0" cy="-15" r="3.3" fill="#fff" stroke="#141414" stroke-width="1.2"/>
<rect x="-6" y="-37" width="12" height="7.5" fill="#fff" stroke="#141414" stroke-width="1.6"/>
</g>
<g transform="translate(841.0,883.5) rotate(0.0)">
<circle cx="-28.5" cy="-12" r="2.9" fill="#9cc9c9" stroke="#4f9296" stroke-width="1.5"/>
<circle cx="-28.5" cy="13" r="2.9" fill="#9cc9c9" stroke="#4f9296" stroke-width="1.5"/>
<circle cx="-28.5" cy="35" r="2.9" fill="#9cc9c9" stroke="#4f9296" stroke-width="1.5"/>
<path d="M0,-83 C8,-71 26,-33 26.5,2 C27,32 25,52 21,63 C18,72 13,83 5,83 L-5,83 C-13,83 -18,72 -21,63 C-25,52 -27,32 -26.5,2 C-26,-33 -8,-71 0,-83 Z" fill="#f6bd8c" stroke="#141414" stroke-width="2.8"/>
<path d="M-10,71.5 Q0,70 10,71.5 L9,77.5 Q0,79 -9,77.5 Z" fill="#f0a04c"/>
<path d="M-14.5,76.5 Q-11,82.5 -5,82.5 L5,82.5 Q11,82.5 14.5,76.5" fill="none" stroke="#141414" stroke-width="3.6"/>
<path d="M-8,-38.5 L8,-38.5 Q17.5,-37 19.5,-20 L20.5,25 Q20,56 15.5,70 L-15.5,70 Q-20,56 -20.5,25 L-19.5,-20 Q-17.5,-37 -8,-38.5 Z" fill="#e8f0cf" stroke="#141414" stroke-width="1.9"/>
<path d="M-6,-34 L6,-34 Q14,-32 15.8,-18 L16.5,25 Q16,52 12,66 L-12,66 Q-16,52 -16.5,25 L-15.8,-18 Q-14,-32 -6,-34 Z" fill="none" stroke="#141414" stroke-width="1.1"/>
<rect x="-10" y="31.5" width="20" height="32" fill="#f4a673" stroke="#141414" stroke-width="1.5"/>
<rect x="-4.5" y="9" width="9" height="22.5" fill="#141414"/>
<rect x="-1.4" y="-15" width="2.8" height="42" fill="#e4e4e4" stroke="#141414" stroke-width="0.9"/>
<path d="M-13.5,-13 Q0,-16.5 12.5,-13" fill="none" stroke="#141414" stroke-width="2"/>
<circle cx="0" cy="-15" r="3.3" fill="#fff" stroke="#141414" stroke-width="1.2"/>
<rect x="-6" y="-37" width="12" height="7.5" fill="#fff" stroke="#141414" stroke-width="1.6"/>
</g>
<g transform="translate(949.5,886.0) rotate(180.0)">
<circle cx="-28.5" cy="-12" r="2.9" fill="#9cc9c9" stroke="#4f9296" stroke-width="1.5"/>
<circle cx="-28.5" cy="13" r="2.9" fill="#9cc9c9" stroke="#4f9296" stroke-width="1.5"/>
<circle cx="-28.5" cy="35" r="2.9" fill="#9cc9c9" stroke="#4f9296" stroke-width="1.5"/>
<path d="M0,-83 C8,-71 26,-33 26.5,2 C27,32 25,52 21,63 C18,72 13,83 5,83 L-5,83 C-13,83 -18,72 -21,63 C-25,52 -27,32 -26.5,2 C-26,-33 -8,-71 0,-83 Z" fill="#f2d6ce" stroke="#141414" stroke-width="2.8"/>
<path d="M-10,71.5 Q0,70 10,71.5 L9,77.5 Q0,79 -9,77.5 Z" fill="#c98e7c"/>
<path d="M-14.5,76.5 Q-11,82.5 -5,82.5 L5,82.5 Q11,82.5 14.5,76.5" fill="none" stroke="#141414" stroke-width="3.6"/>
<path d="M-8,-38.5 L8,-38.5 Q17.5,-37 19.5,-20 L20.5,25 Q20,56 15.5,70 L-15.5,70 Q-20,56 -20.5,25 L-19.5,-20 Q-17.5,-37 -8,-38.5 Z" fill="#e8f0cf" stroke="#141414" stroke-width="1.9"/>
<path d="M-6,-34 L6,-34 Q14,-32 15.8,-18 L16.5,25 Q16,52 12,66 L-12,66 Q-16,52 -16.5,25 L-15.8,-18 Q-14,-32 -6,-34 Z" fill="none" stroke="#141414" stroke-width="1.1"/>
<rect x="-10" y="31.5" width="20" height="32" fill="#e6aaac" stroke="#141414" stroke-width="1.5"/>
<rect x="-4.5" y="9" width="9" height="22.5" fill="#141414"/>
<rect x="-1.4" y="-15" width="2.8" height="42" fill="#e4e4e4" stroke="#141414" stroke-width="0.9"/>
<path d="M-13.5,-13 Q0,-16.5 12.5,-13" fill="none" stroke="#141414" stroke-width="2"/>
<circle cx="0" cy="-15" r="3.3" fill="#fff" stroke="#141414" stroke-width="1.2"/>
<rect x="-6" y="-37" width="12" height="7.5" fill="#fff" stroke="#141414" stroke-width="1.6"/>
</g>
<g transform="translate(1089.8,883.4) rotate(0.0)">
<circle cx="-28.5" cy="-12" r="2.9" fill="#9cc9c9" stroke="#4f9296" stroke-width="1.5"/>
<circle cx="-28.5" cy="13" r="2.9" fill="#9cc9c9" stroke="#4f9296" stroke-width="1.5"/>
<circle cx="-28.5" cy="35" r="2.9" fill="#9cc9c9" stroke="#4f9296" stroke-width="1.5"/>
<path d="M0,-83 C8,-71 26,-33 26.5,2 C27,32 25,52 21,63 C18,72 13,83 5,83 L-5,83 C-13,83 -18,72 -21,63 C-25,52 -27,32 -26.5,2 C-26,-33 -8,-71 0,-83 Z" fill="#f2d6ce" stroke="#141414" stroke-width="2.8"/>
<path d="M-10,71.5 Q0,70 10,71.5 L9,77.5 Q0,79 -9,77.5 Z" fill="#c98e7c"/>
<path d="M-14.5,76.5 Q-11,82.5 -5,82.5 L5,82.5 Q11,82.5 14.5,76.5" fill="none" stroke="#141414" stroke-width="3.6"/>
<path d="M-8,-38.5 L8,-38.5 Q17.5,-37 19.5,-20 L20.5,25 Q20,56 15.5,70 L-15.5,70 Q-20,56 -20.5,25 L-19.5,-20 Q-17.5,-37 -8,-38.5 Z" fill="#e8f0cf" stroke="#141414" stroke-width="1.9"/>
<path d="M-6,-34 L6,-34 Q14,-32 15.8,-18 L16.5,25 Q16,52 12,66 L-12,66 Q-16,52 -16.5,25 L-15.8,-18 Q-14,-32 -6,-34 Z" fill="none" stroke="#141414" stroke-width="1.1"/>
<rect x="-10" y="31.5" width="20" height="32" fill="#e6aaac" stroke="#141414" stroke-width="1.5"/>
<rect x="-4.5" y="9" width="9" height="22.5" fill="#141414"/>
<rect x="-1.4" y="-15" width="2.8" height="42" fill="#e4e4e4" stroke="#141414" stroke-width="0.9"/>
<path d="M-13.5,-13 Q0,-16.5 12.5,-13" fill="none" stroke="#141414" stroke-width="2"/>
<circle cx="0" cy="-15" r="3.3" fill="#fff" stroke="#141414" stroke-width="1.2"/>
<rect x="-6" y="-37" width="12" height="7.5" fill="#fff" stroke="#141414" stroke-width="1.6"/>
</g>
<g transform="translate(1179.6,875.4) rotate(180.0)">
<path d="M0,-83 C8,-71 26,-33 26.5,2 C27,32 25,52 21,63 C18,72 13,83 5,83 L-5,83 C-13,83 -18,72 -21,63 C-25,52 -27,32 -26.5,2 C-26,-33 -8,-71 0,-83 Z" fill="#f2d6ce" stroke="#141414" stroke-width="2.8"/>
<path d="M-10,71.5 Q0,70 10,71.5 L9,77.5 Q0,79 -9,77.5 Z" fill="#c98e7c"/>
<path d="M-14.5,76.5 Q-11,82.5 -5,82.5 L5,82.5 Q11,82.5 14.5,76.5" fill="none" stroke="#141414" stroke-width="3.6"/>
<path d="M-8,-38.5 L8,-38.5 Q17.5,-37 19.5,-20 L20.5,25 Q20,56 15.5,70 L-15.5,70 Q-20,56 -20.5,25 L-19.5,-20 Q-17.5,-37 -8,-38.5 Z" fill="#e8f0cf" stroke="#141414" stroke-width="1.9"/>
<path d="M-6,-34 L6,-34 Q14,-32 15.8,-18 L16.5,25 Q16,52 12,66 L-12,66 Q-16,52 -16.5,25 L-15.8,-18 Q-14,-32 -6,-34 Z" fill="none" stroke="#141414" stroke-width="1.1"/>
<rect x="-10" y="31.5" width="20" height="32" fill="#e6aaac" stroke="#141414" stroke-width="1.5"/>
<rect x="-4.5" y="9" width="9" height="22.5" fill="#141414"/>
<rect x="-1.4" y="-15" width="2.8" height="42" fill="#e4e4e4" stroke="#141414" stroke-width="0.9"/>
<path d="M-13.5,-13 Q0,-16.5 12.5,-13" fill="none" stroke="#141414" stroke-width="2"/>
<circle cx="0" cy="-15" r="3.3" fill="#fff" stroke="#141414" stroke-width="1.2"/>
<rect x="-6" y="-37" width="12" height="7.5" fill="#fff" stroke="#141414" stroke-width="1.6"/>
</g>
<g transform="translate(126.5,1108.8) rotate(90.0)">
<path d="M0,-83 C8,-71 26,-33 26.5,2 C27,32 25,52 21,63 C18,72 13,83 5,83 L-5,83 C-13,83 -18,72 -21,63 C-25,52 -27,32 -26.5,2 C-26,-33 -8,-71 0,-83 Z" fill="#f2d6ce" stroke="#4d4d4d" stroke-width="2.3"/>
<path d="M-10,71.5 Q0,70 10,71.5 L9,77.5 Q0,79 -9,77.5 Z" fill="#c98e7c"/>
<path d="M-14.5,76.5 Q-11,82.5 -5,82.5 L5,82.5 Q11,82.5 14.5,76.5" fill="none" stroke="#4d4d4d" stroke-width="3"/>
<path d="M-8,-38.5 L8,-38.5 Q17.5,-37 19.5,-20 L20.5,25 Q20,56 15.5,70 L-15.5,70 Q-20,56 -20.5,25 L-19.5,-20 Q-17.5,-37 -8,-38.5 Z" fill="#e8f0cf" stroke="#4d4d4d" stroke-width="1.9"/>
<path d="M-6,-34 L6,-34 Q14,-32 15.8,-18 L16.5,25 Q16,52 12,66 L-12,66 Q-16,52 -16.5,25 L-15.8,-18 Q-14,-32 -6,-34 Z" fill="none" stroke="#4d4d4d" stroke-width="1.1"/>
<rect x="-10" y="31.5" width="20" height="32" fill="#e6aaac" stroke="#4d4d4d" stroke-width="1.5"/>
<rect x="-4.5" y="9" width="9" height="22.5" fill="#4d4d4d"/>
<rect x="-1.4" y="-15" width="2.8" height="42" fill="#e4e4e4" stroke="#4d4d4d" stroke-width="0.9"/>
<path d="M-13.5,-13 Q0,-16.5 12.5,-13" fill="none" stroke="#4d4d4d" stroke-width="2"/>
<circle cx="0" cy="-15" r="3.3" fill="#fff" stroke="#4d4d4d" stroke-width="1.2"/>
<rect x="-6" y="-37" width="12" height="7.5" fill="#fff" stroke="#4d4d4d" stroke-width="1.6"/>
</g>
<g transform="translate(371.5,1108.0) rotate(90.0)">
<circle cx="-28.5" cy="-12" r="2.9" fill="#9cc9c9" stroke="#4f9296" stroke-width="1.5"/>
<circle cx="-28.5" cy="13" r="2.9" fill="#9cc9c9" stroke="#4f9296" stroke-width="1.5"/>
<circle cx="-28.5" cy="35" r="2.9" fill="#9cc9c9" stroke="#4f9296" stroke-width="1.5"/>
<path d="M0,-83 C8,-71 26,-33 26.5,2 C27,32 25,52 21,63 C18,72 13,83 5,83 L-5,83 C-13,83 -18,72 -21,63 C-25,52 -27,32 -26.5,2 C-26,-33 -8,-71 0,-83 Z" fill="#f2d6ce" stroke="#141414" stroke-width="2.8"/>
<path d="M-10,71.5 Q0,70 10,71.5 L9,77.5 Q0,79 -9,77.5 Z" fill="#c98e7c"/>
<path d="M-14.5,76.5 Q-11,82.5 -5,82.5 L5,82.5 Q11,82.5 14.5,76.5" fill="none" stroke="#141414" stroke-width="3.6"/>
<path d="M-8,-38.5 L8,-38.5 Q17.5,-37 19.5,-20 L20.5,25 Q20,56 15.5,70 L-15.5,70 Q-20,56 -20.5,25 L-19.5,-20 Q-17.5,-37 -8,-38.5 Z" fill="#e8f0cf" stroke="#141414" stroke-width="1.9"/>
<path d="M-6,-34 L6,-34 Q14,-32 15.8,-18 L16.5,25 Q16,52 12,66 L-12,66 Q-16,52 -16.5,25 L-15.8,-18 Q-14,-32 -6,-34 Z" fill="none" stroke="#141414" stroke-width="1.1"/>
<rect x="-10" y="31.5" width="20" height="32" fill="#e6aaac" stroke="#141414" stroke-width="1.5"/>
<rect x="-4.5" y="9" width="9" height="22.5" fill="#141414"/>
<rect x="-1.4" y="-15" width="2.8" height="42" fill="#e4e4e4" stroke="#141414" stroke-width="0.9"/>
<path d="M-13.5,-13 Q0,-16.5 12.5,-13" fill="none" stroke="#141414" stroke-width="2"/>
<circle cx="0" cy="-15" r="3.3" fill="#fff" stroke="#141414" stroke-width="1.2"/>
<rect x="-6" y="-37" width="12" height="7.5" fill="#fff" stroke="#141414" stroke-width="1.6"/>
</g>
<g transform="translate(371.0,1216.7) rotate(90.0)">
<circle cx="28.5" cy="-12" r="2.9" fill="#9cc9c9" stroke="#4f9296" stroke-width="1.5"/>
<circle cx="28.5" cy="13" r="2.9" fill="#9cc9c9" stroke="#4f9296" stroke-width="1.5"/>
<circle cx="28.5" cy="35" r="2.9" fill="#9cc9c9" stroke="#4f9296" stroke-width="1.5"/>
<path d="M0,-83 C8,-71 26,-33 26.5,2 C27,32 25,52 21,63 C18,72 13,83 5,83 L-5,83 C-13,83 -18,72 -21,63 C-25,52 -27,32 -26.5,2 C-26,-33 -8,-71 0,-83 Z" fill="#d5ece1" stroke="#141414" stroke-width="2.8"/>
<path d="M-10,71.5 Q0,70 10,71.5 L9,77.5 Q0,79 -9,77.5 Z" fill="#79c5c3"/>
<path d="M-14.5,76.5 Q-11,82.5 -5,82.5 L5,82.5 Q11,82.5 14.5,76.5" fill="none" stroke="#141414" stroke-width="3.6"/>
<path d="M-8,-38.5 L8,-38.5 Q17.5,-37 19.5,-20 L20.5,25 Q20,56 15.5,70 L-15.5,70 Q-20,56 -20.5,25 L-19.5,-20 Q-17.5,-37 -8,-38.5 Z" fill="#e8f0cf" stroke="#141414" stroke-width="1.9"/>
<path d="M-6,-34 L6,-34 Q14,-32 15.8,-18 L16.5,25 Q16,52 12,66 L-12,66 Q-16,52 -16.5,25 L-15.8,-18 Q-14,-32 -6,-34 Z" fill="none" stroke="#141414" stroke-width="1.1"/>
<rect x="-10" y="31.5" width="20" height="32" fill="#a8d7e5" stroke="#141414" stroke-width="1.5"/>
<rect x="-4.5" y="9" width="9" height="22.5" fill="#141414"/>
<rect x="-1.4" y="-15" width="2.8" height="42" fill="#e4e4e4" stroke="#141414" stroke-width="0.9"/>
<path d="M-13.5,-13 Q0,-16.5 12.5,-13" fill="none" stroke="#141414" stroke-width="2"/>
<circle cx="0" cy="-15" r="3.3" fill="#fff" stroke="#141414" stroke-width="1.2"/>
<rect x="-6" y="-37" width="12" height="7.5" fill="#fff" stroke="#141414" stroke-width="1.6"/>
</g>
<g transform="translate(129.0,1363.0) rotate(-90.0)">
<path d="M0,-83 C8,-71 26,-33 26.5,2 C27,32 25,52 21,63 C18,72 13,83 5,83 L-5,83 C-13,83 -18,72 -21,63 C-25,52 -27,32 -26.5,2 C-26,-33 -8,-71 0,-83 Z" fill="#f2d6ce" stroke="#141414" stroke-width="2.8"/>
<path d="M-10,71.5 Q0,70 10,71.5 L9,77.5 Q0,79 -9,77.5 Z" fill="#a0584a"/>
<path d="M-14.5,76.5 Q-11,82.5 -5,82.5 L5,82.5 Q11,82.5 14.5,76.5" fill="none" stroke="#141414" stroke-width="3.6"/>
<path d="M-8,-38.5 L8,-38.5 Q17.5,-37 19.5,-20 L20.5,25 Q20,56 15.5,70 L-15.5,70 Q-20,56 -20.5,25 L-19.5,-20 Q-17.5,-37 -8,-38.5 Z" fill="#e8f0cf" stroke="#141414" stroke-width="1.9"/>
<path d="M-6,-34 L6,-34 Q14,-32 15.8,-18 L16.5,25 Q16,52 12,66 L-12,66 Q-16,52 -16.5,25 L-15.8,-18 Q-14,-32 -6,-34 Z" fill="none" stroke="#141414" stroke-width="1.1"/>
<rect x="-10" y="31.5" width="20" height="32" fill="#e6aaac" stroke="#141414" stroke-width="1.5"/>
<rect x="-4.5" y="9" width="9" height="22.5" fill="#141414"/>
<rect x="-1.4" y="-15" width="2.8" height="42" fill="#e4e4e4" stroke="#141414" stroke-width="0.9"/>
<path d="M-13.5,-13 Q0,-16.5 12.5,-13" fill="none" stroke="#141414" stroke-width="2"/>
<circle cx="0" cy="-15" r="3.3" fill="#fff" stroke="#141414" stroke-width="1.2"/>
<rect x="-6" y="-37" width="12" height="7.5" fill="#fff" stroke="#141414" stroke-width="1.6"/>
</g>
<g transform="translate(375.6,1362.3) rotate(-90.0)">
<path d="M0,-83 C8,-71 26,-33 26.5,2 C27,32 25,52 21,63 C18,72 13,83 5,83 L-5,83 C-13,83 -18,72 -21,63 C-25,52 -27,32 -26.5,2 C-26,-33 -8,-71 0,-83 Z" fill="#f2d6ce" stroke="#4d4d4d" stroke-width="2.3"/>
<path d="M-10,71.5 Q0,70 10,71.5 L9,77.5 Q0,79 -9,77.5 Z" fill="#7d6b66"/>
<path d="M-14.5,76.5 Q-11,82.5 -5,82.5 L5,82.5 Q11,82.5 14.5,76.5" fill="none" stroke="#4d4d4d" stroke-width="3"/>
<path d="M-8,-38.5 L8,-38.5 Q17.5,-37 19.5,-20 L20.5,25 Q20,56 15.5,70 L-15.5,70 Q-20,56 -20.5,25 L-19.5,-20 Q-17.5,-37 -8,-38.5 Z" fill="#e8f0cf" stroke="#4d4d4d" stroke-width="1.9"/>
<path d="M-6,-34 L6,-34 Q14,-32 15.8,-18 L16.5,25 Q16,52 12,66 L-12,66 Q-16,52 -16.5,25 L-15.8,-18 Q-14,-32 -6,-34 Z" fill="none" stroke="#4d4d4d" stroke-width="1.1"/>
<rect x="-10" y="31.5" width="20" height="32" fill="#e6aaac" stroke="#4d4d4d" stroke-width="1.5"/>
<rect x="-4.5" y="9" width="9" height="22.5" fill="#4d4d4d"/>
<rect x="-1.4" y="-15" width="2.8" height="42" fill="#e4e4e4" stroke="#4d4d4d" stroke-width="0.9"/>
<path d="M-13.5,-13 Q0,-16.5 12.5,-13" fill="none" stroke="#4d4d4d" stroke-width="2"/>
<circle cx="0" cy="-15" r="3.3" fill="#fff" stroke="#4d4d4d" stroke-width="1.2"/>
<rect x="-6" y="-37" width="12" height="7.5" fill="#fff" stroke="#4d4d4d" stroke-width="1.6"/>
</g>
<rect x="216.6" y="1107.4" width="49.900000000000006" height="3.6" fill="#9383c9"/><polygon points="265.5,1094.7 284.5,1109.2 265.5,1123.7" fill="#9383c9"/>
<rect x="217" y="1360.5" width="50" height="3.6" fill="#9383c9"/><polygon points="266,1347.8 284.7,1362.3 266,1376.8" fill="#9383c9"/>
<rect x="1201.4" y="905.2" width="10.299999999999955" height="3.6" fill="#9383c9"/><polygon points="1210.7,892.4 1229.2,907 1210.7,921.6" fill="#9383c9"/>
<path d="M600,748.5 Q598,768 594.2,782" fill="none" stroke="#9383c9" stroke-width="3.5"/>
<polygon points="579.1,781 608,784.4 591.3,800.6" fill="#9383c9"/>
<rect x="1088.3" y="743" width="3.4" height="33" fill="#9383c9"/>
<polygon points="1075.6,775.5 1105.6,775.5 1090,793.8" fill="#9383c9"/>
<path d="M1208.5,720.8 Q1194,742.5 1187.3,763" fill="none" stroke="#9383c9" stroke-width="3.4"/>
<polygon points="1170.7,761.2 1201.3,763.2 1183,779.4" fill="#9383c9"/>
</g>
<path d="M509,598.5 L627.3,642.4" stroke="#141414" stroke-width="1"/>
<path d="M957.6,599 L1073.8,689.7" stroke="#141414" stroke-width="1"/>
<path d="M1220.3,556.3 L1220.3,692" stroke="#141414" stroke-width="1"/>
<path d="M420.5,1117.4 L617,1117.4" stroke="#141414" stroke-width="1"/>
<path d="M418.7,1370.8 L617,1370.8" stroke="#141414" stroke-width="1"/>
</svg>
<div class="abs" id="hdr">MARINA BERTHS</div>
<div class="abs" id="h1">Arriving at a marina berth</div>
<div class="abs ser" id="c1"><span style="letter-spacing:0.333px">Give yourself plenty of time to pick</span><br><span style="letter-spacing:0.364px">a berth. If necessary, sail past the</span><br><span style="letter-spacing:0.492px">marina a few times to get a good idea</span><br><span style="letter-spacing:0.539px">of its layout and the location of any</span><br><span style="letter-spacing:0.408px">likely berths. Call the marina on VHF</span><br><span style="letter-spacing:0.619px">and ask them to allocate you a berth.</span><br><span style="letter-spacing:0.396px">Tell them if your boat is difficult to</span><br><span style="letter-spacing:0.619px">handle and ask for a suitable berth.</span></div>
<div class="abs ser" id="c2"><span style="letter-spacing:0.569px">When you have found a berth, plan</span><br><span style="letter-spacing:0.333px">your entry with care. Brief the crew</span><br><span style="letter-spacing:0.512px">and give them time to prepare the</span><br><span style="letter-spacing:0.141px">gear. They should know on which side</span><br><span style="letter-spacing:0.116px">to secure fenders and which warps</span><br><span style="letter-spacing:0.338px">are to be secured first. They must</span><br><span style="letter-spacing:0.506px">also check that no warps are trailing</span><br><span style="letter-spacing:0.462px">in the water where they might foul</span><br><span style="letter-spacing:0.353px">the propeller as you maneuver.</span></div>
<div class="abs" id="h3">ENTERING THE BERTH</div>
<div class="abs" id="c3"><span style="letter-spacing:0.512px">The direction of the wind and the</span><br><span style="letter-spacing:0.550px">angle of the berth to the wind will</span><br><span style="letter-spacing:0.450px">determine how you arrive at your</span><br><span style="letter-spacing:0.436px">berth. Your boat’s ability to perform</span><br><span style="letter-spacing:0.347px">well at very low speeds and to prop</span><br><span style="letter-spacing:0.283px">walk will also have a bearing on your</span><br><span style="letter-spacing:0.450px">choice of berth and the way in which</span><br><span style="letter-spacing:0.583px">you enter it.</span></div>
<div class="abs cap r" id="k1" style="right:879px;top:433px"><b style="letter-spacing:-0.360px">Bow-in, leeward berth</b><br><span style="letter-spacing:-0.233px">You should approach the berth with enough</span><br><span style="letter-spacing:-0.205px">speed to be certain that the boat will not slow</span><br><span style="letter-spacing:-0.273px">down or stop before reaching the pontoon. If</span><br><span style="letter-spacing:-0.111px">this happens, the boat will drift downwind into</span><br><span style="letter-spacing:-0.263px">the neighboring boat. The stronger the wind, the</span><br><span style="letter-spacing:-0.331px">more important it is to have enough speed. Be</span><br><span style="letter-spacing:-0.453px">ready to use reverse gear, or a stopping spring</span></div>
<div class="abs cap r" id="k2" style="right:428px;top:433px"><b style="letter-spacing:-0.538px">Reverse in, leeward berth</b><br><span style="letter-spacing:-0.302px">If you have good control in reverse</span><br><span style="letter-spacing:-0.146px">and little prop walk, reverse into a</span><br><span style="letter-spacing:-0.281px">leeward berth with enough speed to</span><br><span style="letter-spacing:-0.137px">avoid being blown downwind away</span><br><span style="letter-spacing:-0.283px">from the pontoon. Use a strong burst</span><br><span style="letter-spacing:-0.137px">of forward gear to stop the boat, and</span><br><span style="letter-spacing:-0.346px">get the warps ashore quickly</span></div>
<div class="abs cap r" id="k3" style="right:167px;top:433px"><b style="letter-spacing:-0.049px">Windward berth</b><br><span style="letter-spacing:0.047px">Motor fairly slowly into the</span><br><span style="letter-spacing:-0.091px">berth bow first, aiming slightly</span><br><span style="letter-spacing:-0.063px">to windward of the pontoon. Put</span><br><span style="letter-spacing:-0.176px">the engine into neutral and let the</span><br><span style="letter-spacing:-0.150px">boat drift sideways into the berth</span></div>
<div class="abs cap" id="k4" style="left:623px;top:1100.5px"><b style="letter-spacing:-0.276px">Bow-in, wind astern berth</b><br><span style="letter-spacing:-0.293px">If your boat does not handle well in reverse gear, enter</span><br><span style="letter-spacing:-0.257px">a wind astern berth slowly, bow first. Take the stern line</span><br><span style="letter-spacing:-0.188px">and bow spring ashore to stop the boat, and put the</span><br><span style="letter-spacing:-0.362px">engine into reverse. However, beware of prop walk</span><br><span style="letter-spacing:-0.188px">pushing the stern away from the pontoon. A stopping</span><br><span style="letter-spacing:-0.291px">spring can be used on its own if you are short-handed</span></div>
<div class="abs cap" id="k5" style="left:623px;top:1353.5px"><b style="letter-spacing:-0.192px">Stern-in, wind ahead berth</b><br><span style="letter-spacing:-0.151px">If you have good control when motoring astern,</span><br><span style="letter-spacing:-0.272px">then reverse into the berth, using a burst of</span><br><span style="letter-spacing:-0.267px">forward gear to stop when you are alongside.</span><br><span style="letter-spacing:-0.163px">This will leave you lying head-to-wind, reducing</span><br><span style="letter-spacing:-0.031px">drafts in the cabin</span></div>
</body></html>
